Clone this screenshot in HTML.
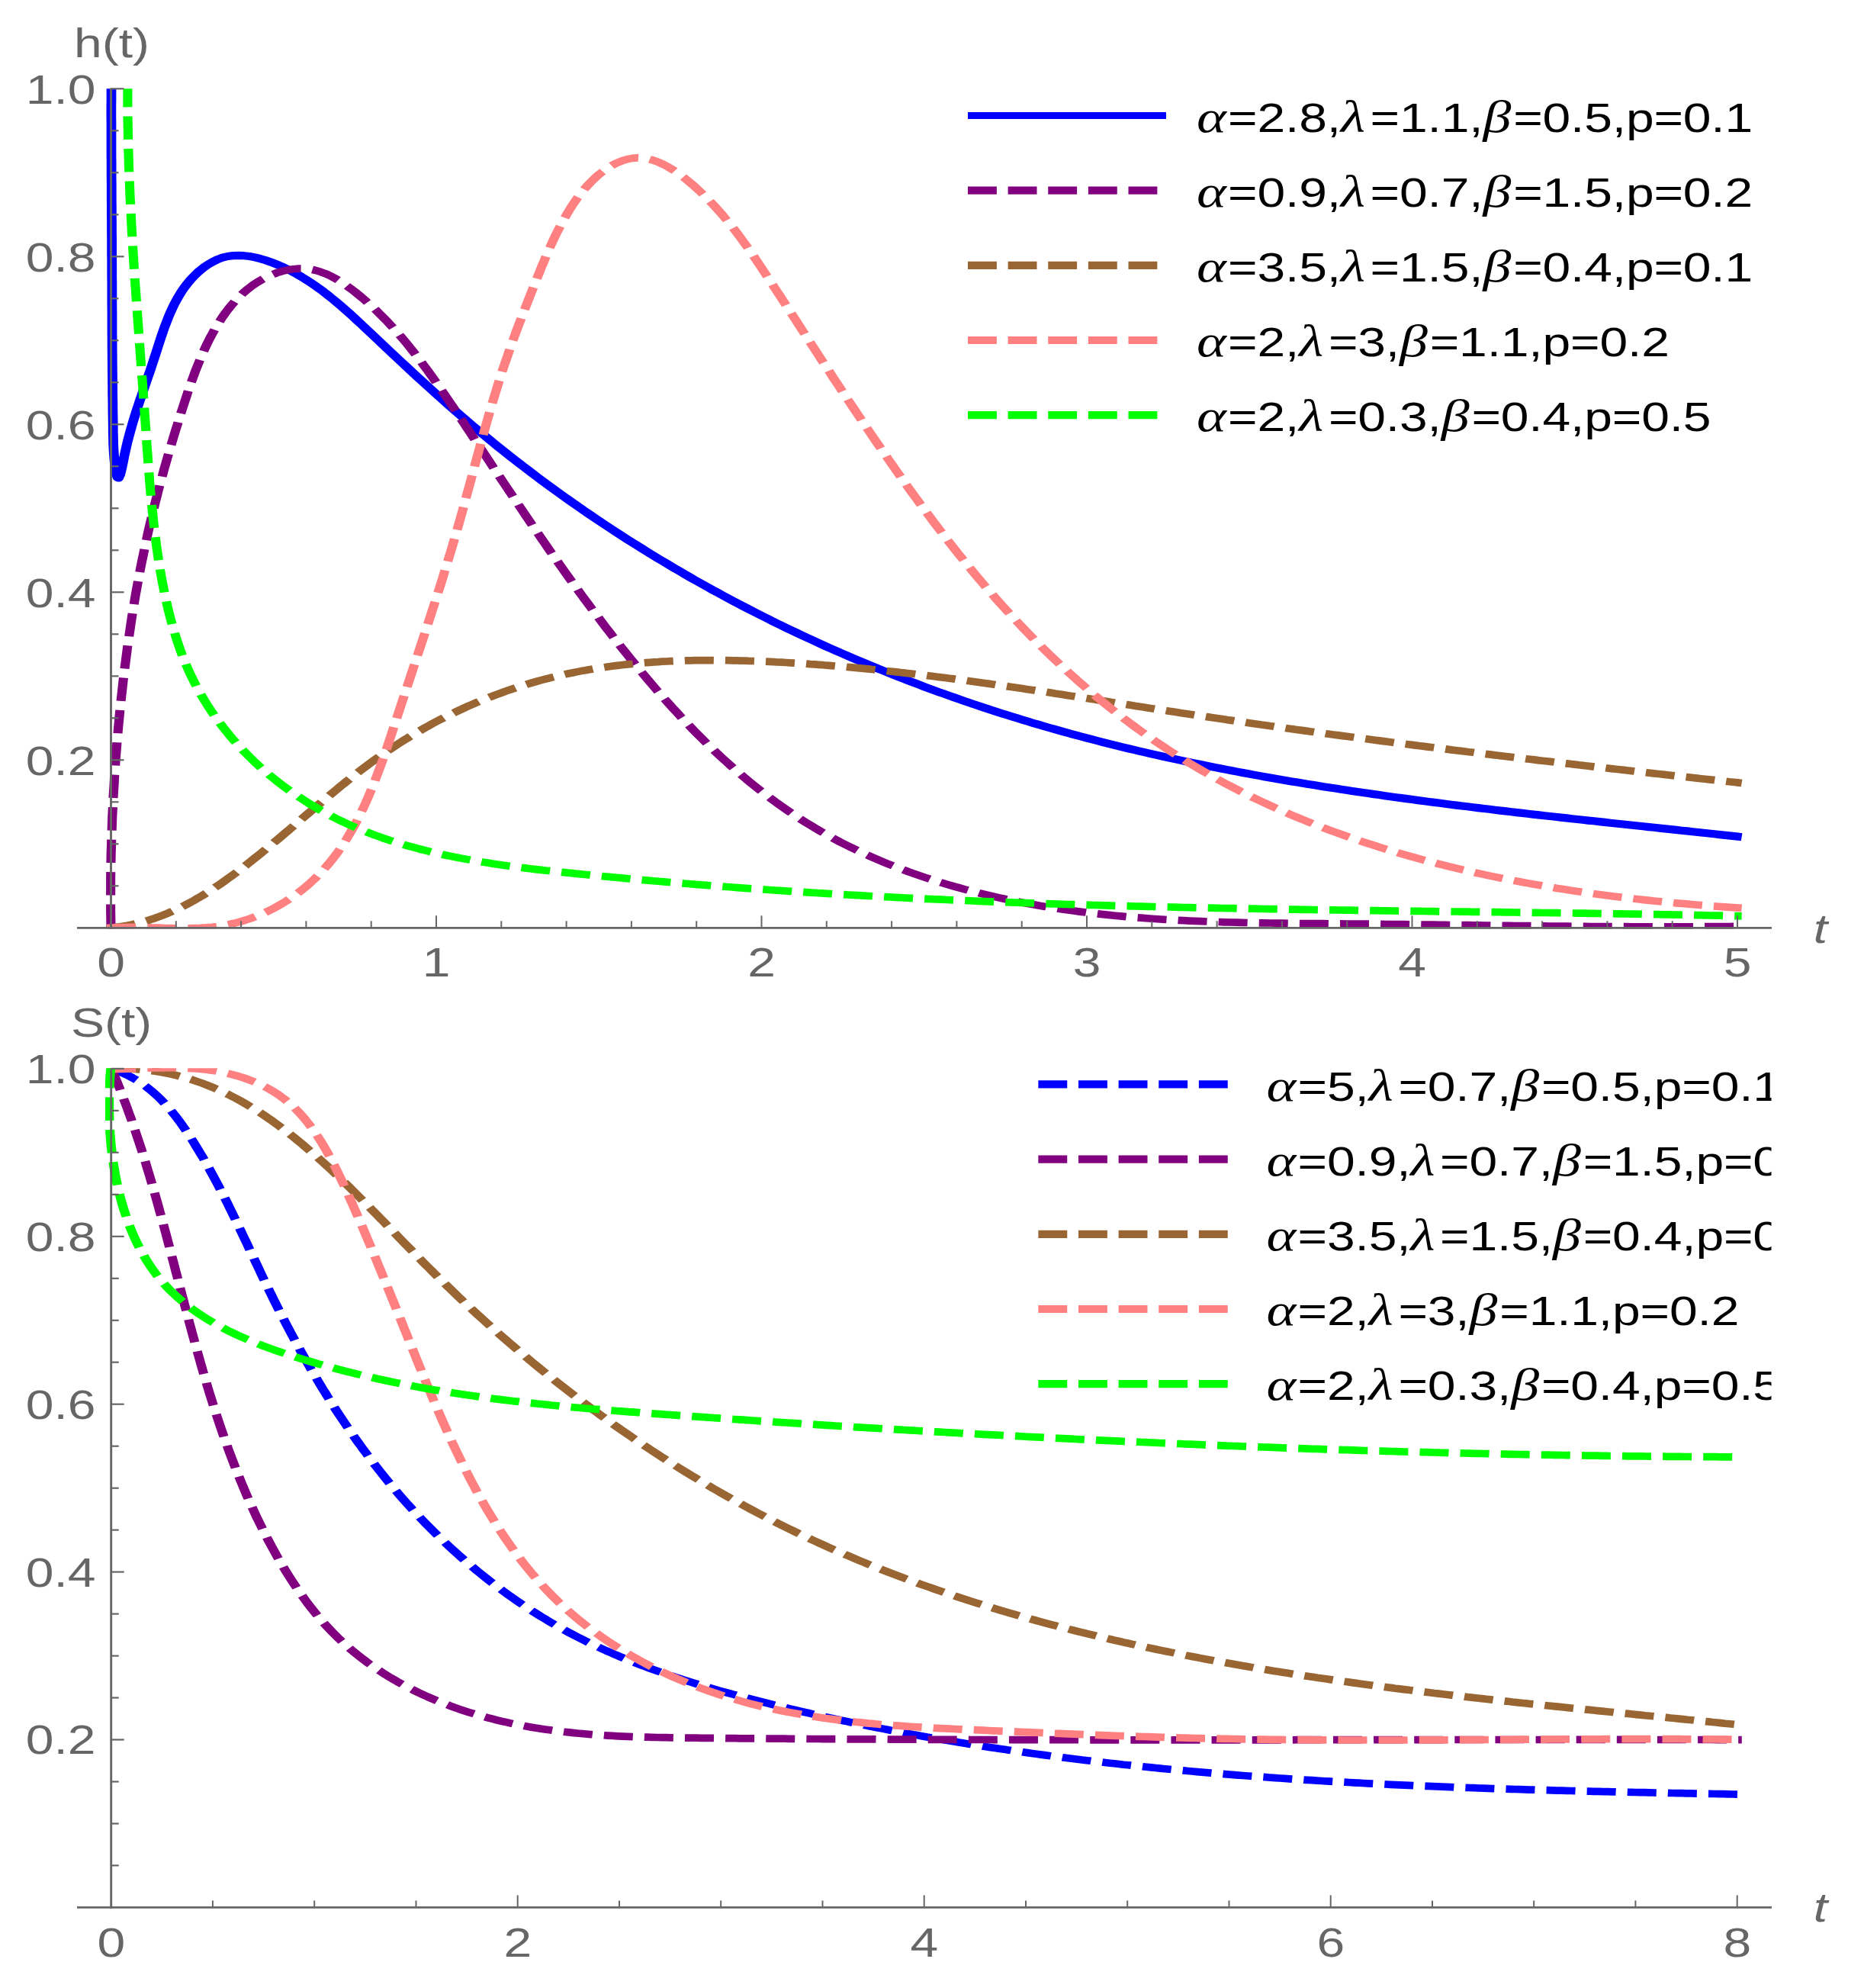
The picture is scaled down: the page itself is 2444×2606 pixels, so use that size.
<!DOCTYPE html><html><head><meta charset="utf-8"><title>h(t) and S(t)</title>
<style>html,body{margin:0;padding:0;background:#fff}svg{display:block}text{font-family:"Liberation Sans",sans-serif;font-size:52.8px}.ax{fill:#666}.lg{fill:#000;letter-spacing:-0.13px}.gk{font-family:"Liberation Serif",serif;font-style:italic;font-size:59.1px}.it{font-style:italic}</style></head><body>
<svg width="2444" height="2606" viewBox="0 0 2444 2606">
<rect width="2444" height="2606" fill="#fff"/>
<defs><clipPath id="cl"><rect x="0" y="0" width="1858.0" height="2606"/></clipPath></defs>
<g transform="scale(1.250,1)">
<defs><clipPath id="ct"><rect x="110.4" y="116.2" width="1720.0" height="1101.4"/></clipPath><clipPath id="cb"><rect x="110.4" y="1400.2" width="1720.0" height="1101.6"/></clipPath></defs>
<g clip-path="url(#ct)"><path d="M116.8 110.0L116.8 117.3L116.8 124.7L116.8 132.0L116.7 139.2L116.7 146.5L116.7 153.8L116.8 161.0L116.8 168.3L116.8 175.5L116.8 182.7L116.8 190.0L116.8 197.2L116.8 204.4L116.9 211.6L116.9 218.8L116.9 226.0L116.9 233.2L117.0 240.3L117.0 247.5L117.0 254.7L117.0 261.9L117.1 269.1L117.1 276.3L117.1 283.5L117.2 290.7L117.2 298.0L117.2 305.2L117.3 312.4L117.3 319.7L117.3 326.9L117.3 334.2L117.4 341.5L117.4 348.8L117.4 356.1L117.4 363.4L117.5 370.8L117.5 378.1L117.5 385.4L117.5 392.8L117.5 400.1L117.6 407.5L117.6 414.8L117.6 422.1L117.6 429.3L117.6 436.6L117.7 443.8L117.7 451.0L117.7 458.1L117.8 465.2L117.8 472.3L117.9 479.3L117.9 486.3L118.0 493.3L118.0 500.4L118.1 507.4L118.1 514.5L118.2 521.7L118.3 528.9L118.3 536.1L118.4 543.5L118.5 550.9L118.6 558.4L118.6 566.1L118.8 573.8L118.9 581.6L119.2 589.4L119.6 597.3L120.1 605.0L120.9 612.7L121.9 620.2L123.1 625.7L124.5 626.5L126.1 622.2L127.7 614.2L129.3 604.7L130.7 595.8L132.1 588.0L133.4 580.8L134.9 573.6L136.4 566.6L138.0 559.6L139.6 552.7L141.3 545.8L143.0 539.0L144.8 532.2L146.6 525.4L148.5 518.6L150.3 511.9L152.2 505.1L154.0 498.4L155.9 491.6L157.8 484.8L159.6 478.0L161.4 471.1L163.2 464.2L165.0 457.3L166.8 450.3L168.6 443.4L170.5 436.4L172.4 429.5L174.5 422.7L176.6 415.9L178.9 409.2L181.3 402.7L183.9 396.2L186.7 389.9L189.7 383.7L192.9 377.7L196.4 372.0L200.1 366.4L204.2 361.0L208.5 355.9L213.1 351.2L217.9 347.0L222.9 343.3L228.1 340.1L233.4 337.7L238.9 336.0L244.5 335.1L250.2 334.8L255.9 335.2L261.7 336.0L267.5 337.4L273.2 339.2L278.8 341.3L284.4 343.7L289.9 346.4L295.3 349.2L300.5 352.3L305.7 355.5L310.7 358.9L315.7 362.5L320.6 366.2L325.4 370.1L330.2 374.2L334.9 378.3L339.5 382.6L344.0 387.0L348.5 391.5L353.0 396.1L357.4 400.8L361.7 405.5L366.1 410.3L370.4 415.2L374.6 420.1L378.9 425.0L383.1 430.0L387.4 435.0L391.6 440.0L395.9 445.0L400.1 450.0L404.3 455.0L408.6 460.0L412.8 465.0L417.1 470.0L421.4 475.0L425.6 479.9L429.9 484.9L434.2 489.8L438.5 494.8L442.8 499.7L447.1 504.6L451.4 509.5L455.7 514.3L460.0 519.2L464.4 524.0L468.7 528.9L473.1 533.7L477.5 538.5L481.9 543.2L486.3 548.0L490.7 552.7L495.1 557.4L499.6 562.1L504.0 566.7L508.5 571.3L513.0 575.9L517.5 580.5L522.0 585.1L526.6 589.6L531.1 594.1L535.6 598.6L540.2 603.1L544.8 607.5L549.4 611.9L554.0 616.3L558.6 620.7L563.3 625.1L567.9 629.4L572.6 633.7L577.2 638.0L581.9 642.3L586.6 646.5L591.3 650.7L596.0 654.9L600.8 659.1L605.5 663.2L610.3 667.4L615.0 671.5L619.8 675.5L624.6 679.6L629.4 683.6L634.2 687.6L639.1 691.6L643.9 695.6L648.7 699.5L653.6 703.5L658.5 707.4L663.4 711.2L668.3 715.1L673.2 718.9L678.1 722.7L683.0 726.5L687.9 730.3L692.9 734.0L697.9 737.7L702.8 741.4L707.8 745.1L712.8 748.7L717.8 752.4L722.8 756.0L727.8 759.6L732.9 763.1L737.9 766.6L743.0 770.2L748.0 773.7L753.1 777.1L758.2 780.6L763.3 784.0L768.4 787.4L773.5 790.8L778.6 794.1L783.7 797.4L788.9 800.8L794.0 804.0L799.2 807.3L804.4 810.5L809.5 813.8L814.7 817.0L819.9 820.1L825.1 823.3L830.3 826.4L835.6 829.5L840.8 832.6L846.0 835.6L851.3 838.7L856.5 841.7L861.8 844.7L867.1 847.7L872.4 850.6L877.6 853.5L882.9 856.4L888.2 859.3L893.6 862.2L898.9 865.0L904.2 867.8L909.5 870.6L914.9 873.4L920.2 876.1L925.6 878.8L931.0 881.5L936.3 884.2L941.7 886.8L947.1 889.5L952.5 892.1L957.9 894.7L963.3 897.2L968.7 899.8L974.1 902.3L979.6 904.8L985.0 907.3L990.5 909.7L995.9 912.1L1001.4 914.5L1006.8 916.9L1012.3 919.3L1017.8 921.6L1023.2 923.9L1028.7 926.2L1034.2 928.5L1039.7 930.7L1045.2 933.0L1050.7 935.2L1056.2 937.3L1061.8 939.5L1067.3 941.6L1072.8 943.7L1078.4 945.8L1083.9 947.9L1089.5 949.9L1095.0 952.0L1100.6 954.0L1106.1 955.9L1111.7 957.9L1117.3 959.8L1122.9 961.8L1128.4 963.6L1134.0 965.5L1139.6 967.4L1145.2 969.2L1150.8 971.0L1156.4 972.8L1162.0 974.6L1167.7 976.3L1173.3 978.1L1178.9 979.8L1184.5 981.5L1190.2 983.1L1195.8 984.8L1201.4 986.4L1207.1 988.1L1212.7 989.7L1218.4 991.2L1224.0 992.8L1229.7 994.4L1235.4 995.9L1241.0 997.4L1246.7 998.9L1252.4 1000.4L1258.1 1001.8L1263.7 1003.3L1269.4 1004.7L1275.1 1006.1L1280.8 1007.5L1286.5 1008.9L1292.2 1010.3L1297.9 1011.6L1303.6 1013.0L1309.3 1014.3L1315.0 1015.6L1320.7 1016.9L1326.4 1018.2L1332.2 1019.5L1337.9 1020.7L1343.6 1021.9L1349.3 1023.2L1355.0 1024.4L1360.8 1025.6L1366.5 1026.8L1372.2 1027.9L1378.0 1029.1L1383.7 1030.3L1389.5 1031.4L1395.2 1032.5L1400.9 1033.6L1406.7 1034.7L1412.4 1035.8L1418.2 1036.9L1423.9 1038.0L1429.7 1039.0L1435.4 1040.1L1441.2 1041.1L1446.9 1042.1L1452.7 1043.2L1458.5 1044.2L1464.2 1045.2L1470.0 1046.1L1475.8 1047.1L1481.5 1048.1L1487.3 1049.1L1493.0 1050.0L1498.8 1051.0L1504.6 1051.9L1510.3 1052.8L1516.1 1053.7L1521.9 1054.7L1527.7 1055.6L1533.4 1056.5L1539.2 1057.3L1545.0 1058.2L1550.7 1059.1L1556.5 1060.0L1562.3 1060.8L1568.0 1061.7L1573.8 1062.6L1579.6 1063.4L1585.4 1064.2L1591.1 1065.1L1596.9 1065.9L1602.7 1066.7L1608.4 1067.6L1614.2 1068.4L1620.0 1069.2L1625.8 1070.0L1631.5 1070.8L1637.3 1071.6L1643.1 1072.4L1648.8 1073.2L1654.6 1074.0L1660.4 1074.8L1666.1 1075.6L1671.9 1076.3L1677.6 1077.1L1683.4 1077.9L1689.2 1078.7L1694.9 1079.5L1700.7 1080.2L1706.4 1081.0L1712.2 1081.8L1717.9 1082.5L1723.7 1083.3L1729.4 1084.1L1735.2 1084.8L1740.9 1085.6L1746.7 1086.4L1752.4 1087.1L1758.2 1087.9L1763.9 1088.7L1769.6 1089.4L1775.4 1090.2L1781.1 1091.0L1786.8 1091.8L1792.6 1092.5L1798.3 1093.3L1804.0 1094.1L1809.7 1094.9L1815.4 1095.6L1821.2 1096.4L1826.9 1097.2" fill="none" stroke="#0000ff" stroke-width="10.2" stroke-linejoin="round"/>
<path d="M116.4 1216.0L116.3 1208.9L116.2 1201.7L116.1 1194.5L116.1 1187.2L116.1 1179.9L116.1 1172.5L116.1 1165.2L116.1 1157.7L116.1 1150.3L116.2 1142.8L116.3 1135.3L116.4 1127.7L116.5 1120.1L116.7 1112.5L116.9 1104.9L117.0 1097.2L117.3 1089.5L117.5 1081.8L117.7 1074.1L118.0 1066.4L118.3 1058.6L118.6 1050.8L118.9 1043.0L119.3 1035.2L119.7 1027.4L120.0 1019.5L120.5 1011.7L120.9 1003.8L121.3 996.0L121.8 988.1L122.3 980.2L122.8 972.4L123.4 964.5L123.9 956.6L124.5 948.7L125.1 940.9L125.7 933.0L126.3 925.1L127.0 917.3L127.7 909.5L128.4 901.6L129.1 893.8L129.8 886.0L130.6 878.2L131.4 870.4L132.2 862.7L133.0 854.9L133.8 847.2L134.7 839.5L135.6 831.9L136.5 824.2L137.4 816.6L138.3 809.0L139.3 801.4L140.3 793.9L141.3 786.4L142.3 778.9L143.4 771.5L144.5 764.1L145.6 756.8L146.7 749.4L147.8 742.2L149.0 734.9L150.2 727.7L151.4 720.5L152.6 713.3L153.9 706.2L155.1 699.1L156.4 691.9L157.8 684.8L159.1 677.7L160.5 670.7L161.9 663.6L163.3 656.5L164.8 649.4L166.2 642.3L167.8 635.2L169.3 628.1L170.9 621.0L172.4 613.8L174.1 606.7L175.7 599.5L177.4 592.3L179.1 585.0L180.9 577.7L182.6 570.4L184.4 563.1L186.3 555.7L188.1 548.2L190.0 540.7L192.0 533.2L194.0 525.6L196.0 518.0L198.0 510.4L200.2 502.8L202.4 495.2L204.6 487.6L207.0 480.1L209.4 472.7L211.9 465.3L214.5 458.0L217.2 450.8L220.0 443.8L223.0 436.9L226.0 430.1L229.2 423.6L232.5 417.2L236.0 411.0L239.6 405.0L243.4 399.2L247.3 393.7L251.4 388.4L255.7 383.4L260.2 378.7L264.8 374.3L269.6 370.2L274.7 366.5L279.9 363.1L285.2 360.1L290.7 357.5L296.3 355.4L302.0 353.8L307.7 352.7L313.5 352.1L319.2 352.2L324.9 352.9L330.5 354.3L336.1 356.3L341.6 358.8L347.0 361.9L352.3 365.5L357.6 369.4L362.7 373.7L367.8 378.3L372.7 383.0L377.6 388.0L382.4 393.0L387.0 398.2L391.6 403.4L396.1 408.7L400.5 414.2L404.9 419.7L409.1 425.3L413.3 430.9L417.4 436.7L421.4 442.5L425.4 448.4L429.3 454.3L433.1 460.3L436.9 466.3L440.7 472.4L444.3 478.6L448.0 484.7L451.6 491.0L455.2 497.2L458.7 503.5L462.2 509.8L465.7 516.1L469.2 522.5L472.6 528.8L476.1 535.2L479.5 541.5L482.9 547.9L486.3 554.3L489.7 560.7L493.1 567.0L496.5 573.4L499.9 579.7L503.3 586.1L506.7 592.4L510.1 598.8L513.4 605.1L516.8 611.5L520.2 617.8L523.6 624.1L527.0 630.5L530.4 636.8L533.8 643.1L537.2 649.4L540.6 655.7L544.0 662.0L547.4 668.3L550.8 674.6L554.2 680.9L557.6 687.1L561.0 693.4L564.5 699.7L567.9 705.9L571.4 712.1L574.8 718.4L578.3 724.6L581.8 730.8L585.3 737.0L588.8 743.2L592.3 749.4L595.8 755.5L599.4 761.7L602.9 767.8L606.5 774.0L610.1 780.1L613.7 786.2L617.3 792.3L620.9 798.4L624.6 804.5L628.3 810.6L631.9 816.6L635.6 822.7L639.4 828.7L643.1 834.7L646.9 840.7L650.6 846.7L654.4 852.7L658.3 858.6L662.1 864.6L666.0 870.5L669.9 876.4L673.8 882.3L677.7 888.2L681.7 894.0L685.7 899.9L689.7 905.7L693.7 911.4L697.8 917.2L701.9 922.9L706.0 928.6L710.2 934.2L714.3 939.8L718.5 945.4L722.8 950.9L727.0 956.5L731.3 961.9L735.6 967.3L740.0 972.7L744.4 978.1L748.8 983.3L753.2 988.6L757.7 993.8L762.2 998.9L766.7 1004.0L771.3 1009.1L775.9 1014.0L780.6 1019.0L785.2 1023.8L789.9 1028.6L794.7 1033.4L799.5 1038.1L804.3 1042.7L809.1 1047.3L814.0 1051.8L818.9 1056.2L823.9 1060.5L828.9 1064.8L833.9 1069.0L839.0 1073.2L844.1 1077.3L849.3 1081.2L854.5 1085.2L859.7 1089.0L865.0 1092.7L870.3 1096.4L875.6 1100.0L881.0 1103.6L886.4 1107.0L891.9 1110.4L897.4 1113.7L902.9 1117.0L908.4 1120.2L914.0 1123.3L919.6 1126.3L925.2 1129.3L930.9 1132.2L936.6 1135.0L942.3 1137.7L948.0 1140.4L953.8 1143.1L959.5 1145.6L965.3 1148.1L971.1 1150.6L977.0 1153.0L982.8 1155.3L988.7 1157.5L994.6 1159.7L1000.5 1161.9L1006.4 1163.9L1012.4 1166.0L1018.3 1167.9L1024.3 1169.8L1030.2 1171.7L1036.2 1173.5L1042.2 1175.2L1048.2 1176.9L1054.2 1178.5L1060.2 1180.1L1066.2 1181.6L1072.3 1183.1L1078.3 1184.5L1084.3 1185.8L1090.4 1187.2L1096.4 1188.4L1102.4 1189.6L1108.5 1190.8L1114.5 1191.9L1120.5 1193.0L1126.6 1194.1L1132.6 1195.1L1138.7 1196.0L1144.7 1196.9L1150.7 1197.8L1156.8 1198.6L1162.8 1199.4L1168.9 1200.2L1174.9 1200.9L1181.0 1201.6L1187.0 1202.2L1193.1 1202.9L1199.1 1203.4L1205.2 1204.0L1211.2 1204.5L1217.3 1205.0L1223.4 1205.5L1229.4 1205.9L1235.5 1206.3L1241.5 1206.7L1247.6 1207.1L1253.7 1207.4L1259.7 1207.7L1265.8 1208.0L1271.9 1208.3L1277.9 1208.5L1284.0 1208.8L1290.1 1209.0L1296.1 1209.2L1302.2 1209.3L1308.3 1209.5L1314.4 1209.7L1320.4 1209.8L1326.5 1209.9L1332.6 1210.0L1338.7 1210.1L1344.8 1210.2L1350.9 1210.3L1356.9 1210.4L1363.0 1210.5L1369.1 1210.6L1375.2 1210.6L1381.3 1210.7L1387.4 1210.7L1393.5 1210.8L1399.6 1210.9L1405.7 1210.9L1411.8 1211.0L1417.9 1211.0L1424.0 1211.1L1430.1 1211.2L1436.2 1211.2L1442.3 1211.3L1448.4 1211.4L1454.5 1211.5L1460.6 1211.6L1466.7 1211.6L1472.8 1211.7L1478.9 1211.8L1485.0 1211.9L1491.2 1212.0L1497.3 1212.1L1503.4 1212.2L1509.5 1212.3L1515.6 1212.4L1521.7 1212.5L1527.8 1212.5L1534.0 1212.6L1540.1 1212.7L1546.2 1212.8L1552.3 1212.9L1558.4 1213.0L1564.5 1213.1L1570.7 1213.2L1576.8 1213.3L1582.9 1213.4L1589.0 1213.5L1595.1 1213.6L1601.2 1213.6L1607.4 1213.7L1613.5 1213.8L1619.6 1213.9L1625.7 1214.0L1631.8 1214.1L1637.9 1214.1L1644.0 1214.2L1650.2 1214.3L1656.3 1214.3L1662.4 1214.4L1668.5 1214.5L1674.6 1214.5L1680.7 1214.6L1686.8 1214.6L1692.9 1214.7L1699.0 1214.7L1705.1 1214.7L1711.2 1214.8L1717.3 1214.8L1723.4 1214.8L1729.5 1214.8L1735.6 1214.8L1741.7 1214.8L1747.8 1214.8L1753.9 1214.8L1760.0 1214.8L1766.1 1214.8L1772.2 1214.8L1778.3 1214.8L1784.4 1214.7L1790.4 1214.7L1796.5 1214.6L1802.6 1214.6L1808.7 1214.5L1814.7 1214.5L1820.8 1214.4L1826.9 1214.3" fill="none" stroke="#800080" stroke-width="9.7" stroke-dasharray="30.4 12.1" stroke-linejoin="round"/>
<path d="M112.0 1216.7L116.4 1216.2L120.7 1215.6L125.1 1214.9L129.4 1214.1L133.6 1213.2L137.8 1212.1L142.0 1211.0L146.1 1209.7L150.2 1208.3L154.3 1206.9L158.3 1205.3L162.3 1203.7L166.2 1201.9L170.1 1200.1L174.0 1198.2L177.9 1196.1L181.7 1194.0L185.5 1191.9L189.3 1189.6L193.0 1187.3L196.7 1184.9L200.4 1182.4L204.1 1179.9L207.7 1177.2L211.4 1174.6L215.0 1171.8L218.5 1169.1L222.1 1166.2L225.6 1163.3L229.1 1160.4L232.7 1157.4L236.1 1154.3L239.6 1151.2L243.1 1148.1L246.5 1145.0L249.9 1141.8L253.4 1138.5L256.8 1135.3L260.2 1132.0L263.5 1128.7L266.9 1125.3L270.3 1122.0L273.7 1118.6L277.0 1115.2L280.4 1111.7L283.7 1108.3L287.0 1104.8L290.4 1101.3L293.7 1097.8L297.0 1094.3L300.3 1090.8L303.7 1087.3L307.0 1083.7L310.3 1080.2L313.6 1076.6L316.9 1073.1L320.2 1069.5L323.6 1066.0L326.9 1062.5L330.2 1058.9L333.5 1055.4L336.9 1051.8L340.2 1048.3L343.6 1044.8L346.9 1041.3L350.3 1037.8L353.7 1034.4L357.0 1030.9L360.4 1027.5L363.8 1024.0L367.2 1020.7L370.6 1017.3L374.1 1013.9L377.5 1010.6L381.0 1007.3L384.4 1004.1L387.9 1000.8L391.4 997.6L394.9 994.5L398.4 991.3L402.0 988.2L405.6 985.2L409.1 982.1L412.7 979.2L416.3 976.2L420.0 973.3L423.6 970.4L427.3 967.6L431.0 964.8L434.6 962.1L438.4 959.3L442.1 956.7L445.8 954.0L449.6 951.4L453.3 948.8L457.1 946.3L460.9 943.8L464.7 941.4L468.5 939.0L472.4 936.6L476.2 934.3L480.1 932.0L484.0 929.7L487.8 927.5L491.7 925.3L495.7 923.2L499.6 921.1L503.5 919.0L507.5 917.0L511.4 915.0L515.4 913.1L519.4 911.2L523.4 909.3L527.4 907.5L531.4 905.7L535.4 904.0L539.5 902.3L543.5 900.6L547.6 899.0L551.7 897.4L555.7 895.9L559.8 894.4L563.9 892.9L568.0 891.5L572.2 890.1L576.3 888.8L580.4 887.5L584.6 886.3L588.7 885.1L592.9 883.9L597.0 882.8L601.2 881.7L605.4 880.6L609.6 879.6L613.8 878.7L618.0 877.8L622.2 876.9L626.4 876.0L630.7 875.2L634.9 874.5L639.1 873.7L643.4 873.0L647.6 872.4L651.9 871.7L656.2 871.1L660.4 870.6L664.7 870.1L669.0 869.6L673.3 869.1L677.5 868.7L681.8 868.3L686.1 867.9L690.4 867.6L694.7 867.2L699.0 867.0L703.3 866.7L707.6 866.5L712.0 866.3L716.3 866.1L720.6 865.9L724.9 865.8L729.2 865.7L733.6 865.6L737.9 865.6L742.2 865.6L746.5 865.5L750.9 865.6L755.2 865.6L759.5 865.6L763.9 865.7L768.2 865.8L772.5 865.9L776.8 866.1L781.2 866.2L785.5 866.4L789.8 866.5L794.2 866.7L798.5 867.0L802.8 867.2L807.1 867.4L811.4 867.7L815.8 868.0L820.1 868.2L824.4 868.5L828.7 868.8L833.0 869.2L837.3 869.5L841.6 869.8L845.9 870.2L850.2 870.6L854.5 870.9L858.8 871.3L863.1 871.7L867.4 872.2L871.7 872.6L876.0 873.0L880.3 873.5L884.6 873.9L888.9 874.4L893.2 874.9L897.5 875.4L901.8 875.9L906.0 876.4L910.3 876.9L914.6 877.5L918.9 878.0L923.2 878.6L927.4 879.1L931.7 879.7L936.0 880.3L940.3 880.9L944.5 881.5L948.8 882.1L953.1 882.7L957.3 883.3L961.6 883.9L965.9 884.6L970.1 885.2L974.4 885.9L978.7 886.5L982.9 887.2L987.2 887.9L991.5 888.5L995.7 889.2L1000.0 889.9L1004.2 890.6L1008.5 891.3L1012.7 892.0L1017.0 892.8L1021.3 893.5L1025.5 894.2L1029.8 895.0L1034.0 895.7L1038.3 896.4L1042.5 897.2L1046.8 898.0L1051.0 898.7L1055.3 899.5L1059.5 900.2L1063.8 901.0L1068.0 901.8L1072.3 902.6L1076.5 903.4L1080.8 904.2L1085.0 904.9L1089.3 905.7L1093.5 906.5L1097.8 907.3L1102.0 908.1L1106.2 909.0L1110.5 909.8L1114.7 910.6L1119.0 911.4L1123.2 912.2L1127.5 913.0L1131.7 913.8L1136.0 914.7L1140.2 915.5L1144.4 916.3L1148.7 917.1L1152.9 918.0L1157.2 918.8L1161.4 919.6L1165.7 920.4L1169.9 921.3L1174.2 922.1L1178.4 922.9L1182.7 923.7L1186.9 924.6L1191.1 925.4L1195.4 926.2L1199.6 927.0L1203.9 927.9L1208.1 928.7L1212.4 929.5L1216.6 930.3L1220.9 931.1L1225.1 931.9L1229.4 932.8L1233.6 933.6L1237.9 934.4L1242.1 935.2L1246.4 936.0L1250.6 936.8L1254.9 937.6L1259.1 938.4L1263.4 939.2L1267.6 939.9L1271.9 940.7L1276.2 941.5L1280.4 942.3L1284.7 943.1L1288.9 943.9L1293.2 944.6L1297.4 945.4L1301.7 946.2L1306.0 946.9L1310.2 947.7L1314.5 948.5L1318.7 949.2L1323.0 950.0L1327.3 950.7L1331.5 951.5L1335.8 952.2L1340.0 953.0L1344.3 953.7L1348.6 954.5L1352.8 955.2L1357.1 955.9L1361.4 956.7L1365.6 957.4L1369.9 958.1L1374.2 958.9L1378.4 959.6L1382.7 960.3L1387.0 961.0L1391.2 961.8L1395.5 962.5L1399.8 963.2L1404.0 963.9L1408.3 964.6L1412.6 965.3L1416.8 966.0L1421.1 966.7L1425.4 967.4L1429.6 968.1L1433.9 968.8L1438.2 969.5L1442.4 970.2L1446.7 970.9L1451.0 971.6L1455.3 972.3L1459.5 973.0L1463.8 973.7L1468.1 974.4L1472.3 975.0L1476.6 975.7L1480.9 976.4L1485.2 977.1L1489.4 977.7L1493.7 978.4L1498.0 979.1L1502.3 979.8L1506.5 980.4L1510.8 981.1L1515.1 981.7L1519.3 982.4L1523.6 983.1L1527.9 983.7L1532.2 984.4L1536.4 985.0L1540.7 985.7L1545.0 986.3L1549.3 987.0L1553.5 987.6L1557.8 988.3L1562.1 988.9L1566.4 989.6L1570.6 990.2L1574.9 990.9L1579.2 991.5L1583.5 992.1L1587.7 992.8L1592.0 993.4L1596.3 994.0L1600.6 994.7L1604.8 995.3L1609.1 995.9L1613.4 996.6L1617.7 997.2L1621.9 997.8L1626.2 998.4L1630.5 999.0L1634.7 999.7L1639.0 1000.3L1643.3 1000.9L1647.6 1001.5L1651.8 1002.1L1656.1 1002.8L1660.4 1003.4L1664.7 1004.0L1668.9 1004.6L1673.2 1005.2L1677.5 1005.8L1681.8 1006.4L1686.0 1007.0L1690.3 1007.6L1694.6 1008.2L1698.8 1008.8L1703.1 1009.4L1707.4 1010.0L1711.7 1010.6L1715.9 1011.2L1720.2 1011.8L1724.5 1012.4L1728.7 1013.0L1733.0 1013.6L1737.3 1014.2L1741.5 1014.8L1745.8 1015.4L1750.1 1016.0L1754.4 1016.6L1758.6 1017.2L1762.9 1017.8L1767.2 1018.4L1771.4 1018.9L1775.7 1019.5L1780.0 1020.1L1784.2 1020.7L1788.5 1021.3L1792.8 1021.9L1797.0 1022.4L1801.3 1023.0L1805.6 1023.6L1809.8 1024.2L1814.1 1024.8L1818.4 1025.3L1822.6 1025.9L1826.9 1026.5" fill="none" stroke="#996633" stroke-width="9.7" stroke-dasharray="30.4 12.1" stroke-linejoin="round"/>
<path d="M112.1 1216.7L118.0 1216.1L124.0 1215.7L130.0 1215.5L136.1 1215.4L142.2 1215.5L148.3 1215.6L154.4 1215.8L160.6 1216.0L166.8 1216.2L173.0 1216.5L179.2 1216.7L185.4 1216.8L191.6 1216.9L197.8 1216.9L204.0 1216.7L210.2 1216.4L216.3 1215.9L222.4 1215.2L228.5 1214.3L234.5 1213.1L240.5 1211.7L246.4 1210.0L252.3 1208.1L258.1 1205.9L263.8 1203.5L269.5 1200.8L275.1 1197.9L280.6 1194.7L286.0 1191.4L291.3 1187.8L296.6 1184.0L301.7 1180.0L306.7 1175.8L311.6 1171.4L316.4 1166.9L321.1 1162.1L325.6 1157.2L330.0 1152.1L334.2 1146.9L338.3 1141.5L342.3 1135.9L346.2 1130.2L349.9 1124.4L353.5 1118.5L356.9 1112.4L360.3 1106.2L363.5 1099.9L366.6 1093.4L369.6 1086.9L372.6 1080.3L375.4 1073.6L378.1 1066.8L380.8 1059.9L383.4 1052.9L385.9 1045.9L388.3 1038.8L390.7 1031.7L393.0 1024.5L395.2 1017.2L397.4 1009.9L399.6 1002.6L401.7 995.3L403.8 987.9L405.8 980.5L407.8 973.1L409.8 965.7L411.7 958.3L413.7 950.9L415.6 943.5L417.5 936.2L419.5 928.8L421.4 921.5L423.3 914.2L425.2 906.9L427.1 899.7L429.1 892.5L431.0 885.2L432.9 878.0L434.8 870.8L436.7 863.7L438.6 856.5L440.5 849.4L442.4 842.2L444.3 835.1L446.2 827.9L448.1 820.8L449.9 813.7L451.8 806.5L453.6 799.4L455.5 792.3L457.3 785.2L459.1 778.0L461.0 770.9L462.8 763.7L464.6 756.6L466.3 749.4L468.1 742.2L469.9 735.0L471.6 727.8L473.4 720.6L475.1 713.3L476.8 706.0L478.5 698.8L480.2 691.4L481.9 684.1L483.5 676.8L485.2 669.4L486.8 662.0L488.4 654.6L490.0 647.1L491.7 639.7L493.3 632.3L494.9 624.8L496.5 617.4L498.1 609.9L499.7 602.4L501.4 595.0L503.0 587.5L504.6 580.0L506.3 572.6L508.0 565.1L509.6 557.7L511.3 550.2L513.0 542.8L514.8 535.4L516.5 528.0L518.3 520.6L520.1 513.3L521.9 505.9L523.8 498.6L525.6 491.3L527.5 484.1L529.5 476.8L531.5 469.6L533.5 462.4L535.5 455.3L537.5 448.2L539.6 441.0L541.7 433.9L543.8 426.9L546.0 419.8L548.1 412.8L550.3 405.7L552.5 398.7L554.7 391.7L556.9 384.7L559.1 377.7L561.4 370.7L563.6 363.7L565.9 356.7L568.1 349.7L570.5 342.8L572.8 335.8L575.2 328.8L577.7 321.9L580.3 314.9L582.9 308.0L585.7 301.1L588.6 294.1L591.6 287.2L594.8 280.4L598.1 273.5L601.6 266.8L605.3 260.1L609.2 253.7L613.3 247.4L617.6 241.4L622.1 235.7L626.8 230.3L631.7 225.4L636.7 220.9L641.9 216.9L647.1 213.5L652.5 210.8L657.9 208.7L663.4 207.4L668.9 206.9L674.4 207.2L679.9 208.4L685.3 210.2L690.8 212.7L696.2 215.8L701.5 219.3L706.8 223.4L712.0 227.8L717.2 232.6L722.2 237.6L727.1 242.8L731.8 248.1L736.5 253.6L741.0 259.1L745.3 264.7L749.6 270.3L753.8 276.1L757.9 281.9L761.8 287.8L765.7 293.7L769.5 299.7L773.3 305.8L776.9 311.9L780.5 318.1L784.1 324.2L787.6 330.5L791.0 336.7L794.4 343.0L797.8 349.3L801.2 355.7L804.5 362.0L807.9 368.3L811.2 374.7L814.5 381.1L817.9 387.4L821.2 393.8L824.5 400.2L827.8 406.6L831.2 413.0L834.5 419.3L837.8 425.7L841.1 432.1L844.5 438.5L847.8 444.9L851.1 451.3L854.5 457.7L857.8 464.1L861.1 470.4L864.5 476.8L867.8 483.2L871.2 489.6L874.5 496.0L877.9 502.3L881.3 508.7L884.6 515.1L888.0 521.4L891.4 527.8L894.8 534.1L898.2 540.5L901.6 546.8L905.0 553.2L908.4 559.5L911.8 565.8L915.3 572.1L918.7 578.4L922.2 584.7L925.6 591.0L929.1 597.2L932.6 603.5L936.1 609.7L939.6 616.0L943.1 622.2L946.6 628.4L950.2 634.6L953.7 640.8L957.3 647.0L960.9 653.1L964.5 659.3L968.1 665.4L971.7 671.5L975.4 677.6L979.0 683.7L982.7 689.8L986.4 695.8L990.1 701.9L993.8 707.9L997.6 713.9L1001.4 719.8L1005.1 725.8L1009.0 731.7L1012.8 737.6L1016.7 743.5L1020.5 749.4L1024.4 755.2L1028.4 761.1L1032.3 766.9L1036.3 772.6L1040.3 778.4L1044.3 784.1L1048.4 789.8L1052.5 795.5L1056.6 801.1L1060.7 806.8L1064.9 812.4L1069.1 817.9L1073.3 823.5L1077.6 829.0L1081.8 834.4L1086.1 839.9L1090.5 845.3L1094.8 850.7L1099.2 856.0L1103.6 861.3L1108.1 866.6L1112.5 871.8L1117.0 877.0L1121.5 882.2L1126.1 887.3L1130.7 892.4L1135.3 897.4L1139.9 902.4L1144.5 907.4L1149.2 912.3L1153.9 917.2L1158.6 922.0L1163.4 926.8L1168.2 931.6L1173.0 936.3L1177.8 940.9L1182.7 945.5L1187.6 950.1L1192.5 954.6L1197.4 959.0L1202.4 963.4L1207.4 967.8L1212.4 972.1L1217.4 976.3L1222.5 980.5L1227.6 984.7L1232.7 988.8L1237.8 992.8L1243.0 996.8L1248.2 1000.8L1253.4 1004.6L1258.6 1008.5L1263.9 1012.3L1269.1 1016.0L1274.4 1019.7L1279.8 1023.3L1285.1 1026.9L1290.5 1030.4L1295.9 1033.9L1301.3 1037.4L1306.7 1040.8L1312.1 1044.1L1317.6 1047.4L1323.1 1050.6L1328.6 1053.8L1334.1 1057.0L1339.7 1060.1L1345.2 1063.2L1350.8 1066.2L1356.4 1069.2L1362.0 1072.1L1367.6 1075.0L1373.3 1077.8L1378.9 1080.6L1384.6 1083.4L1390.3 1086.1L1396.0 1088.8L1401.8 1091.4L1407.5 1094.0L1413.2 1096.5L1419.0 1099.0L1424.8 1101.5L1430.6 1103.9L1436.4 1106.3L1442.2 1108.6L1448.1 1110.9L1453.9 1113.2L1459.8 1115.4L1465.6 1117.6L1471.5 1119.8L1477.4 1121.9L1483.3 1123.9L1489.2 1126.0L1495.1 1128.0L1501.1 1129.9L1507.0 1131.8L1512.9 1133.7L1518.9 1135.6L1524.9 1137.4L1530.8 1139.2L1536.8 1140.9L1542.8 1142.6L1548.8 1144.3L1554.8 1145.9L1560.8 1147.6L1566.8 1149.1L1572.9 1150.7L1578.9 1152.2L1584.9 1153.7L1591.0 1155.1L1597.0 1156.5L1603.0 1157.9L1609.1 1159.3L1615.2 1160.6L1621.2 1161.9L1627.3 1163.1L1633.3 1164.4L1639.4 1165.6L1645.5 1166.8L1651.5 1167.9L1657.6 1169.0L1663.7 1170.1L1669.7 1171.2L1675.8 1172.2L1681.9 1173.2L1688.0 1174.2L1694.0 1175.2L1700.1 1176.1L1706.2 1177.0L1712.3 1177.9L1718.3 1178.8L1724.4 1179.6L1730.4 1180.4L1736.5 1181.2L1742.6 1181.9L1748.6 1182.7L1754.7 1183.4L1760.7 1184.1L1766.8 1184.7L1772.8 1185.4L1778.8 1186.0L1784.9 1186.6L1790.9 1187.2L1796.9 1187.8L1802.9 1188.3L1808.9 1188.8L1814.9 1189.3L1820.9 1189.8L1826.9 1190.3" fill="none" stroke="#ff8080" stroke-width="9.7" stroke-dasharray="30.4 12.1" stroke-linejoin="round"/>
<path d="M133.9 110.0L133.9 117.1L133.9 124.2L133.9 131.3L133.9 138.4L134.0 145.4L134.0 152.5L134.1 159.5L134.2 166.5L134.3 173.5L134.4 180.5L134.5 187.5L134.6 194.5L134.8 201.5L135.0 208.4L135.1 215.4L135.3 222.3L135.5 229.2L135.7 236.2L136.0 243.1L136.2 250.0L136.4 256.9L136.7 263.8L137.0 270.7L137.2 277.6L137.5 284.5L137.8 291.3L138.1 298.2L138.4 305.1L138.7 311.9L139.1 318.8L139.4 325.7L139.7 332.5L140.1 339.4L140.4 346.2L140.8 353.1L141.2 359.9L141.5 366.8L141.9 373.7L142.3 380.5L142.7 387.4L143.1 394.2L143.5 401.1L143.9 407.9L144.3 414.8L144.7 421.7L145.1 428.5L145.5 435.4L145.9 442.3L146.3 449.1L146.7 456.0L147.1 462.9L147.5 469.8L147.9 476.7L148.3 483.6L148.7 490.5L149.2 497.4L149.6 504.4L150.0 511.3L150.4 518.2L150.8 525.2L151.2 532.1L151.6 539.1L152.0 546.1L152.4 553.1L152.8 560.1L153.2 567.1L153.6 574.1L153.9 581.1L154.3 588.1L154.8 595.2L155.2 602.2L155.6 609.3L156.0 616.3L156.5 623.3L156.9 630.4L157.4 637.5L157.9 644.5L158.4 651.6L158.9 658.6L159.5 665.7L160.1 672.7L160.7 679.8L161.3 686.8L162.0 693.9L162.6 700.9L163.4 707.9L164.1 714.9L164.9 722.0L165.7 729.0L166.6 736.0L167.5 743.0L168.4 750.0L169.4 756.9L170.4 763.9L171.5 770.8L172.6 777.8L173.8 784.7L175.1 791.6L176.3 798.4L177.7 805.3L179.1 812.1L180.6 818.8L182.2 825.6L183.8 832.2L185.5 838.9L187.3 845.5L189.1 852.0L191.0 858.5L193.1 864.9L195.2 871.3L197.4 877.6L199.7 883.9L202.1 890.1L204.6 896.2L207.2 902.2L209.8 908.2L212.6 914.2L215.4 920.0L218.3 925.8L221.3 931.5L224.4 937.1L227.6 942.7L230.8 948.2L234.2 953.6L237.6 958.9L241.0 964.2L244.6 969.4L248.2 974.5L251.9 979.6L255.7 984.5L259.5 989.4L263.4 994.2L267.3 999.0L271.3 1003.6L275.4 1008.2L279.5 1012.7L283.7 1017.1L288.0 1021.4L292.3 1025.7L296.6 1029.8L301.1 1033.9L305.5 1037.9L310.0 1041.8L314.6 1045.6L319.2 1049.3L323.8 1053.0L328.5 1056.5L333.3 1060.0L338.0 1063.4L342.8 1066.7L347.7 1069.9L352.6 1073.0L357.5 1076.0L362.5 1078.9L367.4 1081.7L372.5 1084.5L377.5 1087.1L382.6 1089.7L387.7 1092.2L392.8 1094.6L398.0 1096.9L403.2 1099.2L408.4 1101.4L413.7 1103.5L418.9 1105.5L424.2 1107.5L429.5 1109.4L434.9 1111.2L440.2 1113.0L445.6 1114.7L451.0 1116.4L456.4 1118.0L461.9 1119.5L467.3 1121.0L472.8 1122.4L478.3 1123.8L483.8 1125.1L489.3 1126.4L494.8 1127.6L500.4 1128.8L505.9 1130.0L511.5 1131.1L517.0 1132.2L522.6 1133.2L528.2 1134.2L533.8 1135.2L539.4 1136.1L545.0 1137.0L550.6 1137.9L556.2 1138.7L561.9 1139.6L567.5 1140.4L573.1 1141.2L578.8 1141.9L584.4 1142.7L590.0 1143.4L595.6 1144.1L601.3 1144.9L606.9 1145.6L612.5 1146.3L618.1 1146.9L623.7 1147.6L629.3 1148.3L634.9 1149.0L640.5 1149.6L646.1 1150.3L651.7 1150.9L657.3 1151.6L662.9 1152.2L668.4 1152.8L674.0 1153.5L679.6 1154.1L685.1 1154.7L690.7 1155.3L696.3 1155.9L701.8 1156.5L707.4 1157.0L712.9 1157.6L718.5 1158.2L724.0 1158.8L729.6 1159.3L735.1 1159.9L740.7 1160.4L746.2 1161.0L751.7 1161.5L757.3 1162.0L762.8 1162.5L768.3 1163.0L773.8 1163.6L779.4 1164.1L784.9 1164.6L790.4 1165.0L795.9 1165.5L801.4 1166.0L806.9 1166.5L812.4 1167.0L818.0 1167.4L823.5 1167.9L829.0 1168.3L834.5 1168.8L840.0 1169.2L845.5 1169.7L851.0 1170.1L856.5 1170.5L862.0 1170.9L867.5 1171.3L873.0 1171.8L878.5 1172.2L884.0 1172.6L889.4 1173.0L894.9 1173.3L900.4 1173.7L905.9 1174.1L911.4 1174.5L916.9 1174.9L922.4 1175.2L927.9 1175.6L933.4 1175.9L938.9 1176.3L944.4 1176.6L949.8 1177.0L955.3 1177.3L960.8 1177.6L966.3 1178.0L971.8 1178.3L977.3 1178.6L982.8 1178.9L988.3 1179.2L993.8 1179.5L999.3 1179.8L1004.8 1180.1L1010.2 1180.4L1015.7 1180.7L1021.2 1181.0L1026.7 1181.3L1032.2 1181.6L1037.7 1181.8L1043.2 1182.1L1048.7 1182.4L1054.2 1182.6L1059.7 1182.9L1065.2 1183.1L1070.8 1183.4L1076.3 1183.6L1081.8 1183.9L1087.3 1184.1L1092.8 1184.4L1098.3 1184.6L1103.8 1184.8L1109.4 1185.0L1114.9 1185.3L1120.4 1185.5L1125.9 1185.7L1131.5 1185.9L1137.0 1186.1L1142.5 1186.3L1148.1 1186.5L1153.6 1186.7L1159.1 1186.9L1164.7 1187.1L1170.2 1187.3L1175.8 1187.5L1181.3 1187.6L1186.9 1187.8L1192.4 1188.0L1198.0 1188.2L1203.5 1188.3L1209.1 1188.5L1214.7 1188.7L1220.2 1188.8L1225.8 1189.0L1231.4 1189.2L1236.9 1189.3L1242.5 1189.5L1248.1 1189.6L1253.7 1189.8L1259.3 1189.9L1264.8 1190.1L1270.4 1190.2L1276.0 1190.3L1281.6 1190.5L1287.2 1190.6L1292.8 1190.7L1298.4 1190.9L1303.9 1191.0L1309.5 1191.1L1315.1 1191.2L1320.7 1191.4L1326.3 1191.5L1331.9 1191.6L1337.5 1191.7L1343.1 1191.8L1348.7 1192.0L1354.3 1192.1L1359.9 1192.2L1365.5 1192.3L1371.1 1192.4L1376.7 1192.5L1382.3 1192.6L1387.9 1192.7L1393.5 1192.8L1399.1 1192.9L1404.7 1193.0L1410.3 1193.1L1415.9 1193.2L1421.5 1193.3L1427.1 1193.4L1432.7 1193.5L1438.3 1193.6L1443.9 1193.7L1449.5 1193.8L1455.1 1193.9L1460.7 1194.0L1466.3 1194.1L1471.9 1194.2L1477.5 1194.3L1483.1 1194.3L1488.7 1194.4L1494.3 1194.5L1499.9 1194.6L1505.5 1194.7L1511.1 1194.8L1516.7 1194.9L1522.3 1195.0L1527.9 1195.0L1533.5 1195.1L1539.1 1195.2L1544.7 1195.3L1550.3 1195.4L1555.9 1195.5L1561.5 1195.6L1567.0 1195.7L1572.6 1195.7L1578.2 1195.8L1583.8 1195.9L1589.4 1196.0L1594.9 1196.1L1600.5 1196.2L1606.1 1196.3L1611.7 1196.4L1617.2 1196.5L1622.8 1196.5L1628.4 1196.6L1633.9 1196.7L1639.5 1196.8L1645.0 1196.9L1650.6 1197.0L1656.2 1197.1L1661.7 1197.2L1667.3 1197.3L1672.8 1197.4L1678.3 1197.5L1683.9 1197.6L1689.4 1197.7L1695.0 1197.8L1700.5 1197.9L1706.0 1198.0L1711.6 1198.1L1717.1 1198.2L1722.6 1198.4L1728.1 1198.5L1733.6 1198.6L1739.1 1198.7L1744.7 1198.8L1750.2 1198.9L1755.7 1199.1L1761.2 1199.2L1766.7 1199.3L1772.2 1199.4L1777.6 1199.6L1783.1 1199.7L1788.6 1199.8L1794.1 1200.0L1799.6 1200.1L1805.0 1200.2L1810.5 1200.4L1816.0 1200.5L1821.4 1200.7L1826.9 1200.8" fill="none" stroke="#00ff00" stroke-width="9.7" stroke-dasharray="30.4 12.1" stroke-linejoin="round"/></g>
<g clip-path="url(#cb)"><path d="M116.6 1401.1L121.4 1403.0L126.0 1405.2L130.4 1407.5L134.8 1410.1L139.0 1412.9L143.1 1415.8L147.0 1418.9L150.9 1422.2L154.6 1425.7L158.3 1429.4L161.8 1433.1L165.2 1437.0L168.6 1441.1L171.8 1445.3L175.0 1449.6L178.1 1454.0L181.1 1458.5L184.1 1463.1L186.9 1467.8L189.8 1472.6L192.5 1477.4L195.2 1482.3L197.9 1487.3L200.5 1492.3L203.1 1497.4L205.6 1502.5L208.1 1507.6L210.6 1512.8L213.1 1517.9L215.5 1523.2L217.9 1528.4L220.2 1533.7L222.5 1539.0L224.8 1544.3L227.1 1549.6L229.4 1555.0L231.6 1560.4L233.9 1565.8L236.1 1571.2L238.3 1576.6L240.4 1582.1L242.6 1587.5L244.7 1593.0L246.9 1598.5L249.0 1604.0L251.1 1609.5L253.2 1615.0L255.3 1620.6L257.4 1626.1L259.5 1631.6L261.6 1637.2L263.7 1642.7L265.8 1648.2L267.9 1653.8L270.0 1659.3L272.1 1664.9L274.2 1670.4L276.3 1675.9L278.4 1681.4L280.6 1686.9L282.7 1692.4L284.9 1697.9L287.0 1703.4L289.2 1708.9L291.4 1714.3L293.6 1719.8L295.8 1725.2L298.1 1730.6L300.3 1736.0L302.6 1741.4L304.9 1746.8L307.2 1752.2L309.5 1757.5L311.8 1762.8L314.2 1768.2L316.5 1773.5L318.9 1778.8L321.3 1784.1L323.7 1789.3L326.1 1794.6L328.6 1799.8L331.1 1805.0L333.5 1810.2L336.0 1815.4L338.5 1820.6L341.1 1825.7L343.6 1830.9L346.2 1836.0L348.8 1841.1L351.4 1846.2L354.0 1851.2L356.7 1856.3L359.4 1861.3L362.1 1866.3L364.8 1871.3L367.5 1876.3L370.3 1881.2L373.0 1886.1L375.8 1891.0L378.7 1895.9L381.5 1900.8L384.4 1905.6L387.3 1910.4L390.2 1915.2L393.1 1920.0L396.1 1924.8L399.1 1929.5L402.1 1934.2L405.1 1938.9L408.1 1943.5L411.2 1948.2L414.3 1952.8L417.5 1957.4L420.6 1961.9L423.8 1966.5L427.0 1971.0L430.2 1975.4L433.5 1979.9L436.8 1984.3L440.1 1988.7L443.4 1993.1L446.8 1997.5L450.2 2001.8L453.6 2006.1L457.1 2010.4L460.6 2014.6L464.1 2018.8L467.6 2023.0L471.1 2027.1L474.7 2031.2L478.3 2035.3L481.9 2039.4L485.6 2043.4L489.3 2047.4L493.0 2051.3L496.7 2055.2L500.4 2059.1L504.2 2062.9L508.0 2066.7L511.8 2070.5L515.6 2074.2L519.5 2077.9L523.4 2081.6L527.3 2085.2L531.2 2088.8L535.2 2092.3L539.2 2095.8L543.1 2099.3L547.2 2102.7L551.2 2106.0L555.3 2109.4L559.3 2112.6L563.4 2115.9L567.5 2119.1L571.7 2122.2L575.8 2125.3L580.0 2128.4L584.2 2131.4L588.4 2134.3L592.7 2137.3L596.9 2140.1L601.2 2142.9L605.5 2145.7L609.8 2148.4L614.1 2151.1L618.4 2153.8L622.8 2156.4L627.2 2158.9L631.5 2161.4L635.9 2163.9L640.4 2166.3L644.8 2168.7L649.2 2171.1L653.7 2173.4L658.2 2175.7L662.7 2177.9L667.2 2180.1L671.7 2182.3L676.2 2184.4L680.7 2186.5L685.3 2188.6L689.8 2190.6L694.4 2192.6L699.0 2194.6L703.6 2196.5L708.2 2198.5L712.8 2200.3L717.4 2202.2L722.0 2204.0L726.6 2205.8L731.3 2207.6L735.9 2209.4L740.6 2211.1L745.3 2212.8L749.9 2214.5L754.6 2216.2L759.3 2217.8L764.0 2219.4L768.7 2221.0L773.4 2222.6L778.1 2224.2L782.8 2225.7L787.5 2227.2L792.2 2228.7L796.9 2230.2L801.6 2231.7L806.3 2233.2L811.0 2234.7L815.8 2236.1L820.5 2237.5L825.2 2238.9L829.9 2240.3L834.7 2241.7L839.4 2243.1L844.1 2244.5L848.9 2245.8L853.6 2247.2L858.3 2248.5L863.1 2249.8L867.8 2251.1L872.6 2252.4L877.3 2253.7L882.0 2255.0L886.8 2256.2L891.5 2257.5L896.3 2258.7L901.0 2259.9L905.8 2261.2L910.5 2262.4L915.3 2263.5L920.0 2264.7L924.8 2265.9L929.6 2267.0L934.3 2268.2L939.1 2269.3L943.8 2270.4L948.6 2271.6L953.4 2272.7L958.1 2273.8L962.9 2274.8L967.7 2275.9L972.4 2277.0L977.2 2278.0L982.0 2279.0L986.7 2280.1L991.5 2281.1L996.3 2282.1L1001.1 2283.1L1005.8 2284.1L1010.6 2285.0L1015.4 2286.0L1020.2 2287.0L1025.0 2287.9L1029.8 2288.8L1034.5 2289.8L1039.3 2290.7L1044.1 2291.6L1048.9 2292.5L1053.7 2293.3L1058.5 2294.2L1063.3 2295.1L1068.1 2295.9L1072.9 2296.8L1077.6 2297.6L1082.4 2298.5L1087.2 2299.3L1092.0 2300.1L1096.8 2300.9L1101.6 2301.7L1106.4 2302.5L1111.2 2303.2L1116.0 2304.0L1120.8 2304.8L1125.6 2305.5L1130.4 2306.2L1135.2 2307.0L1140.1 2307.7L1144.9 2308.4L1149.7 2309.1L1154.5 2309.8L1159.3 2310.5L1164.1 2311.2L1168.9 2311.8L1173.7 2312.5L1178.5 2313.2L1183.4 2313.8L1188.2 2314.4L1193.0 2315.1L1197.8 2315.7L1202.6 2316.3L1207.4 2316.9L1212.3 2317.5L1217.1 2318.1L1221.9 2318.7L1226.7 2319.3L1231.5 2319.8L1236.4 2320.4L1241.2 2320.9L1246.0 2321.5L1250.8 2322.0L1255.7 2322.6L1260.5 2323.1L1265.3 2323.6L1270.1 2324.1L1275.0 2324.6L1279.8 2325.1L1284.6 2325.6L1289.5 2326.1L1294.3 2326.6L1299.1 2327.1L1303.9 2327.5L1308.8 2328.0L1313.6 2328.4L1318.4 2328.9L1323.3 2329.3L1328.1 2329.7L1332.9 2330.2L1337.8 2330.6L1342.6 2331.0L1347.5 2331.4L1352.3 2331.8L1357.1 2332.2L1362.0 2332.6L1366.8 2333.0L1371.6 2333.4L1376.5 2333.7L1381.3 2334.1L1386.2 2334.5L1391.0 2334.8L1395.8 2335.2L1400.7 2335.5L1405.5 2335.9L1410.4 2336.2L1415.2 2336.5L1420.1 2336.9L1424.9 2337.2L1429.7 2337.5L1434.6 2337.8L1439.4 2338.1L1444.3 2338.4L1449.1 2338.7L1454.0 2339.0L1458.8 2339.3L1463.6 2339.6L1468.5 2339.9L1473.3 2340.1L1478.2 2340.4L1483.0 2340.7L1487.9 2340.9L1492.7 2341.2L1497.6 2341.4L1502.4 2341.7L1507.3 2341.9L1512.1 2342.2L1517.0 2342.4L1521.8 2342.6L1526.7 2342.9L1531.5 2343.1L1536.3 2343.3L1541.2 2343.5L1546.0 2343.7L1550.9 2344.0L1555.7 2344.2L1560.6 2344.4L1565.4 2344.6L1570.3 2344.8L1575.1 2345.0L1580.0 2345.2L1584.8 2345.3L1589.7 2345.5L1594.5 2345.7L1599.4 2345.9L1604.2 2346.1L1609.1 2346.2L1613.9 2346.4L1618.8 2346.6L1623.6 2346.7L1628.5 2346.9L1633.3 2347.1L1638.2 2347.2L1643.0 2347.4L1647.9 2347.5L1652.7 2347.7L1657.5 2347.8L1662.4 2348.0L1667.2 2348.1L1672.1 2348.3L1676.9 2348.4L1681.8 2348.6L1686.6 2348.7L1691.5 2348.8L1696.3 2349.0L1701.2 2349.1L1706.0 2349.2L1710.9 2349.4L1715.7 2349.5L1720.5 2349.6L1725.4 2349.7L1730.2 2349.9L1735.1 2350.0L1739.9 2350.1L1744.8 2350.2L1749.6 2350.4L1754.4 2350.5L1759.3 2350.6L1764.1 2350.7L1769.0 2350.8L1773.8 2350.9L1778.7 2351.1L1783.5 2351.2L1788.3 2351.3L1793.2 2351.4L1798.0 2351.5L1802.9 2351.6L1807.7 2351.7L1812.5 2351.9L1817.4 2352.0L1822.2 2352.1L1827.0 2352.2" fill="none" stroke="#0000ff" stroke-width="9.7" stroke-dasharray="30.4 12.1" stroke-linejoin="round"/>
<path d="M116.7 1399.9L118.7 1405.8L120.6 1411.7L122.6 1417.6L124.5 1423.5L126.4 1429.4L128.2 1435.3L130.0 1441.3L131.8 1447.2L133.6 1453.2L135.3 1459.2L137.1 1465.2L138.8 1471.2L140.4 1477.2L142.1 1483.2L143.7 1489.2L145.3 1495.2L146.9 1501.3L148.5 1507.3L150.0 1513.4L151.5 1519.5L153.1 1525.6L154.5 1531.6L156.0 1537.7L157.5 1543.8L158.9 1549.9L160.4 1556.1L161.8 1562.2L163.2 1568.3L164.6 1574.4L166.0 1580.6L167.3 1586.7L168.7 1592.9L170.1 1599.0L171.4 1605.2L172.7 1611.3L174.1 1617.5L175.4 1623.7L176.7 1629.9L178.0 1636.0L179.3 1642.2L180.6 1648.4L181.9 1654.6L183.2 1660.8L184.5 1666.9L185.8 1673.1L187.1 1679.3L188.4 1685.5L189.7 1691.7L191.0 1697.9L192.3 1704.1L193.6 1710.3L195.0 1716.5L196.3 1722.7L197.6 1728.9L198.9 1735.0L200.3 1741.2L201.6 1747.4L203.0 1753.6L204.3 1759.8L205.7 1766.0L207.1 1772.1L208.5 1778.3L209.9 1784.5L211.3 1790.6L212.7 1796.8L214.2 1803.0L215.7 1809.1L217.1 1815.3L218.6 1821.4L220.1 1827.6L221.7 1833.7L223.2 1839.8L224.8 1845.9L226.4 1852.1L228.0 1858.2L229.6 1864.3L231.2 1870.3L232.9 1876.4L234.6 1882.5L236.3 1888.6L238.1 1894.6L239.8 1900.7L241.6 1906.7L243.4 1912.7L245.3 1918.7L247.1 1924.7L249.0 1930.7L251.0 1936.6L252.9 1942.6L254.9 1948.5L256.9 1954.5L258.9 1960.4L261.0 1966.3L263.1 1972.1L265.3 1978.0L267.4 1983.8L269.6 1989.7L271.9 1995.5L274.2 2001.3L276.5 2007.0L278.8 2012.8L281.2 2018.5L283.6 2024.2L286.1 2029.9L288.6 2035.6L291.1 2041.2L293.7 2046.8L296.3 2052.4L299.0 2057.9L301.7 2063.4L304.5 2068.9L307.3 2074.3L310.1 2079.6L313.0 2085.0L316.0 2090.2L319.0 2095.4L322.0 2100.6L325.1 2105.6L328.3 2110.7L331.5 2115.6L334.8 2120.5L338.1 2125.3L341.5 2130.1L344.9 2134.7L348.4 2139.3L352.0 2143.8L355.6 2148.2L359.3 2152.5L363.0 2156.8L366.8 2160.9L370.7 2165.0L374.6 2168.9L378.5 2172.8L382.6 2176.6L386.6 2180.4L390.8 2184.0L394.9 2187.6L399.2 2191.0L403.4 2194.4L407.7 2197.8L412.1 2201.0L416.5 2204.2L420.9 2207.2L425.4 2210.2L429.9 2213.2L434.5 2216.0L439.1 2218.8L443.7 2221.5L448.3 2224.1L453.0 2226.6L457.7 2229.1L462.5 2231.5L467.3 2233.8L472.1 2236.1L476.9 2238.3L481.7 2240.4L486.6 2242.4L491.5 2244.4L496.4 2246.3L501.3 2248.1L506.3 2249.9L511.2 2251.6L516.2 2253.2L521.2 2254.8L526.2 2256.3L531.2 2257.7L536.2 2259.1L541.3 2260.4L546.3 2261.6L551.3 2262.8L556.4 2263.9L561.4 2265.0L566.5 2266.0L571.5 2266.9L576.6 2267.8L581.7 2268.7L586.7 2269.5L591.8 2270.2L596.9 2270.9L602.0 2271.6L607.1 2272.2L612.2 2272.8L617.3 2273.3L622.4 2273.8L627.5 2274.3L632.6 2274.7L637.7 2275.1L642.8 2275.4L648.0 2275.8L653.1 2276.1L658.2 2276.3L663.3 2276.6L668.5 2276.8L673.6 2277.0L678.7 2277.2L683.9 2277.4L689.0 2277.5L694.2 2277.6L699.3 2277.7L704.4 2277.8L709.6 2277.9L714.7 2278.0L719.9 2278.1L725.0 2278.2L730.1 2278.2L735.3 2278.3L740.4 2278.4L745.6 2278.4L750.7 2278.5L755.9 2278.5L761.0 2278.6L766.1 2278.7L771.3 2278.7L776.4 2278.8L781.6 2278.8L786.7 2278.9L791.8 2278.9L797.0 2279.0L802.1 2279.0L807.2 2279.1L812.4 2279.1L817.5 2279.2L822.6 2279.2L827.8 2279.3L832.9 2279.3L838.1 2279.4L843.2 2279.4L848.3 2279.5L853.5 2279.5L858.6 2279.5L863.7 2279.6L868.9 2279.6L874.0 2279.7L879.1 2279.7L884.2 2279.7L889.4 2279.8L894.5 2279.8L899.6 2279.8L904.8 2279.9L909.9 2279.9L915.0 2279.9L920.2 2280.0L925.3 2280.0L930.4 2280.0L935.6 2280.1L940.7 2280.1L945.8 2280.1L950.9 2280.2L956.1 2280.2L961.2 2280.2L966.3 2280.2L971.4 2280.3L976.6 2280.3L981.7 2280.3L986.8 2280.3L992.0 2280.4L997.1 2280.4L1002.2 2280.4L1007.3 2280.4L1012.5 2280.4L1017.6 2280.5L1022.7 2280.5L1027.8 2280.5L1033.0 2280.5L1038.1 2280.5L1043.2 2280.6L1048.3 2280.6L1053.5 2280.6L1058.6 2280.6L1063.7 2280.6L1068.8 2280.6L1073.9 2280.6L1079.1 2280.7L1084.2 2280.7L1089.3 2280.7L1094.4 2280.7L1099.6 2280.7L1104.7 2280.7L1109.8 2280.7L1114.9 2280.7L1120.0 2280.7L1125.2 2280.7L1130.3 2280.7L1135.4 2280.8L1140.5 2280.8L1145.6 2280.8L1150.8 2280.8L1155.9 2280.8L1161.0 2280.8L1166.1 2280.8L1171.3 2280.8L1176.4 2280.8L1181.5 2280.8L1186.6 2280.8L1191.7 2280.8L1196.9 2280.8L1202.0 2280.8L1207.1 2280.8L1212.2 2280.8L1217.3 2280.8L1222.5 2280.8L1227.6 2280.8L1232.7 2280.8L1237.8 2280.8L1242.9 2280.8L1248.0 2280.8L1253.2 2280.8L1258.3 2280.8L1263.4 2280.8L1268.5 2280.8L1273.6 2280.8L1278.8 2280.8L1283.9 2280.8L1289.0 2280.8L1294.1 2280.8L1299.2 2280.8L1304.4 2280.8L1309.5 2280.8L1314.6 2280.8L1319.7 2280.8L1324.8 2280.8L1330.0 2280.8L1335.1 2280.8L1340.2 2280.8L1345.3 2280.8L1350.4 2280.8L1355.5 2280.8L1360.7 2280.7L1365.8 2280.7L1370.9 2280.7L1376.0 2280.7L1381.1 2280.7L1386.3 2280.7L1391.4 2280.7L1396.5 2280.7L1401.6 2280.7L1406.7 2280.7L1411.9 2280.7L1417.0 2280.7L1422.1 2280.7L1427.2 2280.7L1432.3 2280.7L1437.5 2280.7L1442.6 2280.6L1447.7 2280.6L1452.8 2280.6L1457.9 2280.6L1463.1 2280.6L1468.2 2280.6L1473.3 2280.6L1478.4 2280.6L1483.5 2280.6L1488.7 2280.6L1493.8 2280.6L1498.9 2280.6L1504.0 2280.6L1509.1 2280.6L1514.3 2280.6L1519.4 2280.6L1524.5 2280.5L1529.6 2280.5L1534.7 2280.5L1539.9 2280.5L1545.0 2280.5L1550.1 2280.5L1555.2 2280.5L1560.4 2280.5L1565.5 2280.5L1570.6 2280.5L1575.7 2280.5L1580.9 2280.5L1586.0 2280.5L1591.1 2280.5L1596.2 2280.5L1601.3 2280.5L1606.5 2280.5L1611.6 2280.5L1616.7 2280.5L1621.8 2280.5L1627.0 2280.5L1632.1 2280.5L1637.2 2280.5L1642.3 2280.5L1647.5 2280.4L1652.6 2280.4L1657.7 2280.4L1662.9 2280.4L1668.0 2280.4L1673.1 2280.4L1678.2 2280.4L1683.4 2280.4L1688.5 2280.4L1693.6 2280.4L1698.7 2280.4L1703.9 2280.4L1709.0 2280.5L1714.1 2280.5L1719.3 2280.5L1724.4 2280.5L1729.5 2280.5L1734.7 2280.5L1739.8 2280.5L1744.9 2280.5L1750.0 2280.5L1755.2 2280.5L1760.3 2280.5L1765.4 2280.5L1770.6 2280.5L1775.7 2280.5L1780.8 2280.5L1786.0 2280.5L1791.1 2280.5L1796.2 2280.5L1801.4 2280.6L1806.5 2280.6L1811.6 2280.6L1816.8 2280.6L1821.9 2280.6L1827.0 2280.6" fill="none" stroke="#800080" stroke-width="9.7" stroke-dasharray="30.4 12.1" stroke-linejoin="round"/>
<path d="M116.6 1401.2L121.5 1401.0L126.5 1401.0L131.3 1401.0L136.2 1401.2L140.9 1401.5L145.7 1401.9L150.4 1402.4L155.0 1403.0L159.6 1403.7L164.2 1404.6L168.7 1405.5L173.2 1406.5L177.7 1407.6L182.1 1408.8L186.4 1410.1L190.8 1411.6L195.1 1413.0L199.3 1414.6L203.5 1416.3L207.7 1418.1L211.9 1419.9L216.0 1421.8L220.0 1423.8L224.1 1425.9L228.1 1428.1L232.1 1430.3L236.0 1432.7L240.0 1435.0L243.8 1437.5L247.7 1440.0L251.5 1442.6L255.3 1445.3L259.1 1448.0L262.9 1450.8L266.6 1453.7L270.3 1456.6L274.0 1459.6L277.6 1462.6L281.3 1465.7L284.9 1468.8L288.5 1472.0L292.0 1475.3L295.6 1478.6L299.1 1481.9L302.6 1485.3L306.1 1488.7L309.5 1492.2L313.0 1495.7L316.4 1499.2L319.8 1502.8L323.2 1506.5L326.6 1510.1L330.0 1513.8L333.4 1517.5L336.7 1521.3L340.1 1525.0L343.4 1528.8L346.7 1532.7L350.0 1536.5L353.3 1540.4L356.6 1544.3L359.8 1548.2L363.1 1552.2L366.4 1556.2L369.6 1560.1L372.9 1564.2L376.1 1568.2L379.3 1572.2L382.6 1576.3L385.8 1580.3L389.0 1584.4L392.2 1588.5L395.4 1592.6L398.6 1596.7L401.9 1600.8L405.1 1604.9L408.3 1609.0L411.5 1613.2L414.7 1617.3L417.9 1621.4L421.1 1625.6L424.3 1629.7L427.5 1633.8L430.8 1637.9L434.0 1642.0L437.2 1646.2L440.5 1650.3L443.7 1654.4L446.9 1658.5L450.2 1662.5L453.5 1666.6L456.7 1670.7L460.0 1674.7L463.3 1678.7L466.6 1682.7L469.9 1686.7L473.2 1690.7L476.5 1694.7L479.8 1698.7L483.2 1702.6L486.5 1706.6L489.9 1710.5L493.2 1714.4L496.6 1718.3L500.0 1722.2L503.4 1726.0L506.8 1729.9L510.2 1733.7L513.6 1737.5L517.0 1741.3L520.4 1745.1L523.8 1748.9L527.3 1752.7L530.7 1756.4L534.2 1760.2L537.7 1763.9L541.1 1767.6L544.6 1771.3L548.1 1775.0L551.6 1778.7L555.1 1782.3L558.6 1786.0L562.1 1789.6L565.7 1793.2L569.2 1796.8L572.8 1800.4L576.3 1803.9L579.9 1807.5L583.4 1811.0L587.0 1814.5L590.6 1818.0L594.2 1821.5L597.8 1825.0L601.4 1828.5L605.0 1831.9L608.6 1835.3L612.3 1838.7L615.9 1842.1L619.6 1845.5L623.2 1848.9L626.9 1852.2L630.5 1855.6L634.2 1858.9L637.9 1862.2L641.6 1865.5L645.3 1868.8L649.0 1872.0L652.7 1875.3L656.5 1878.5L660.2 1881.7L663.9 1884.9L667.7 1888.1L671.4 1891.2L675.2 1894.4L679.0 1897.5L682.7 1900.6L686.5 1903.7L690.3 1906.8L694.1 1909.9L697.9 1912.9L701.7 1916.0L705.5 1919.0L709.4 1922.0L713.2 1925.0L717.0 1927.9L720.9 1930.9L724.8 1933.8L728.6 1936.7L732.5 1939.6L736.4 1942.5L740.3 1945.4L744.1 1948.2L748.0 1951.1L752.0 1953.9L755.9 1956.7L759.8 1959.4L763.7 1962.2L767.7 1965.0L771.6 1967.7L775.6 1970.4L779.5 1973.1L783.5 1975.8L787.4 1978.4L791.4 1981.1L795.4 1983.7L799.4 1986.3L803.4 1988.9L807.4 1991.5L811.4 1994.0L815.5 1996.6L819.5 1999.1L823.5 2001.6L827.6 2004.1L831.6 2006.5L835.7 2009.0L839.7 2011.4L843.8 2013.8L847.9 2016.2L852.0 2018.6L856.0 2020.9L860.1 2023.3L864.2 2025.6L868.4 2027.9L872.5 2030.2L876.6 2032.4L880.7 2034.7L884.9 2036.9L889.0 2039.1L893.2 2041.3L897.3 2043.5L901.5 2045.7L905.6 2047.8L909.8 2050.0L914.0 2052.1L918.2 2054.2L922.4 2056.2L926.6 2058.3L930.8 2060.4L935.0 2062.4L939.2 2064.4L943.4 2066.4L947.7 2068.4L951.9 2070.4L956.1 2072.3L960.4 2074.2L964.6 2076.2L968.9 2078.1L973.1 2079.9L977.4 2081.8L981.7 2083.7L986.0 2085.5L990.2 2087.3L994.5 2089.2L998.8 2090.9L1003.1 2092.7L1007.4 2094.5L1011.7 2096.2L1016.0 2098.0L1020.4 2099.7L1024.7 2101.4L1029.0 2103.1L1033.3 2104.8L1037.7 2106.5L1042.0 2108.1L1046.4 2109.7L1050.7 2111.4L1055.1 2113.0L1059.4 2114.6L1063.8 2116.1L1068.1 2117.7L1072.5 2119.3L1076.9 2120.8L1081.3 2122.3L1085.7 2123.9L1090.0 2125.4L1094.4 2126.8L1098.8 2128.3L1103.2 2129.8L1107.6 2131.2L1112.0 2132.7L1116.5 2134.1L1120.9 2135.5L1125.3 2136.9L1129.7 2138.3L1134.1 2139.7L1138.6 2141.0L1143.0 2142.4L1147.4 2143.7L1151.9 2145.1L1156.3 2146.4L1160.8 2147.7L1165.2 2149.0L1169.7 2150.3L1174.1 2151.5L1178.6 2152.8L1183.0 2154.0L1187.5 2155.3L1192.0 2156.5L1196.4 2157.7L1200.9 2158.9L1205.4 2160.1L1209.9 2161.3L1214.3 2162.5L1218.8 2163.6L1223.3 2164.8L1227.8 2165.9L1232.3 2167.0L1236.8 2168.2L1241.3 2169.3L1245.8 2170.4L1250.3 2171.5L1254.8 2172.5L1259.3 2173.6L1263.8 2174.7L1268.3 2175.7L1272.8 2176.8L1277.3 2177.8L1281.8 2178.8L1286.4 2179.8L1290.9 2180.8L1295.4 2181.8L1299.9 2182.8L1304.4 2183.8L1309.0 2184.8L1313.5 2185.7L1318.0 2186.7L1322.5 2187.6L1327.1 2188.5L1331.6 2189.5L1336.1 2190.4L1340.7 2191.3L1345.2 2192.2L1349.8 2193.1L1354.3 2194.0L1358.8 2194.9L1363.4 2195.7L1367.9 2196.6L1372.5 2197.5L1377.0 2198.3L1381.5 2199.2L1386.1 2200.0L1390.6 2200.8L1395.2 2201.6L1399.7 2202.4L1404.3 2203.3L1408.8 2204.1L1413.4 2204.8L1417.9 2205.6L1422.5 2206.4L1427.0 2207.2L1431.6 2208.0L1436.1 2208.7L1440.7 2209.5L1445.2 2210.2L1449.8 2211.0L1454.3 2211.7L1458.9 2212.4L1463.4 2213.2L1468.0 2213.9L1472.5 2214.6L1477.1 2215.3L1481.6 2216.0L1486.2 2216.7L1490.7 2217.4L1495.3 2218.1L1499.8 2218.8L1504.3 2219.5L1508.9 2220.1L1513.4 2220.8L1518.0 2221.5L1522.5 2222.1L1527.1 2222.8L1531.6 2223.4L1536.2 2224.1L1540.7 2224.7L1545.2 2225.4L1549.8 2226.0L1554.3 2226.6L1558.8 2227.3L1563.4 2227.9L1567.9 2228.5L1572.4 2229.1L1577.0 2229.7L1581.5 2230.3L1586.0 2231.0L1590.6 2231.6L1595.1 2232.2L1599.6 2232.8L1604.1 2233.4L1608.7 2233.9L1613.2 2234.5L1617.7 2235.1L1622.2 2235.7L1626.7 2236.3L1631.2 2236.9L1635.7 2237.4L1640.2 2238.0L1644.7 2238.6L1649.3 2239.2L1653.8 2239.7L1658.3 2240.3L1662.7 2240.9L1667.2 2241.4L1671.7 2242.0L1676.2 2242.6L1680.7 2243.1L1685.2 2243.7L1689.7 2244.2L1694.1 2244.8L1698.6 2245.3L1703.1 2245.9L1707.6 2246.4L1712.0 2247.0L1716.5 2247.6L1721.0 2248.1L1725.4 2248.7L1729.9 2249.2L1734.3 2249.8L1738.8 2250.3L1743.2 2250.9L1747.7 2251.4L1752.1 2252.0L1756.5 2252.5L1761.0 2253.1L1765.4 2253.6L1769.8 2254.2L1774.3 2254.7L1778.7 2255.3L1783.1 2255.8L1787.5 2256.4L1791.9 2256.9L1796.3 2257.5L1800.7 2258.0L1805.1 2258.6L1809.5 2259.2L1813.9 2259.7L1818.3 2260.3L1822.6 2260.8L1827.0 2261.4" fill="none" stroke="#996633" stroke-width="9.7" stroke-dasharray="30.4 12.1" stroke-linejoin="round"/>
<path d="M112.1 1401.6L116.8 1401.6L121.6 1401.5L126.5 1401.4L131.4 1401.2L136.3 1401.0L141.3 1400.8L146.3 1400.6L151.3 1400.4L156.3 1400.2L161.4 1400.0L166.5 1399.9L171.5 1399.8L176.6 1399.7L181.7 1399.7L186.8 1399.8L191.9 1400.0L196.9 1400.2L201.9 1400.6L207.0 1401.0L212.0 1401.6L216.9 1402.3L221.8 1403.1L226.7 1404.1L231.6 1405.2L236.4 1406.4L241.2 1407.8L245.9 1409.3L250.5 1410.9L255.1 1412.7L259.6 1414.7L264.1 1416.8L268.5 1419.1L272.8 1421.5L277.1 1424.1L281.2 1426.8L285.3 1429.7L289.3 1432.8L293.1 1436.0L296.9 1439.5L300.6 1443.1L304.2 1446.9L307.7 1450.8L311.1 1455.0L314.4 1459.3L317.6 1463.7L320.7 1468.3L323.7 1473.0L326.6 1477.9L329.5 1482.9L332.3 1488.0L335.0 1493.1L337.7 1498.4L340.3 1503.8L342.8 1509.3L345.2 1514.8L347.7 1520.4L350.0 1526.1L352.3 1531.8L354.6 1537.5L356.8 1543.3L359.0 1549.1L361.2 1554.9L363.3 1560.8L365.4 1566.6L367.5 1572.4L369.6 1578.2L371.6 1584.0L373.7 1589.8L375.7 1595.6L377.7 1601.4L379.7 1607.1L381.6 1612.8L383.6 1618.6L385.5 1624.3L387.5 1630.0L389.4 1635.7L391.3 1641.3L393.2 1647.0L395.1 1652.7L396.9 1658.4L398.8 1664.0L400.7 1669.7L402.5 1675.3L404.4 1681.0L406.2 1686.6L408.1 1692.2L409.9 1697.9L411.7 1703.5L413.6 1709.2L415.4 1714.8L417.2 1720.5L419.1 1726.1L420.9 1731.8L422.7 1737.4L424.5 1743.1L426.4 1748.8L428.2 1754.5L430.0 1760.1L431.9 1765.8L433.7 1771.5L435.6 1777.3L437.4 1783.0L439.3 1788.7L441.2 1794.5L443.0 1800.2L444.9 1806.0L446.8 1811.7L448.7 1817.5L450.7 1823.2L452.6 1829.0L454.5 1834.8L456.5 1840.5L458.5 1846.3L460.5 1852.0L462.5 1857.8L464.5 1863.5L466.5 1869.2L468.6 1875.0L470.6 1880.7L472.7 1886.4L474.8 1892.1L477.0 1897.8L479.1 1903.4L481.3 1909.1L483.5 1914.7L485.7 1920.3L487.9 1925.9L490.2 1931.5L492.5 1937.1L494.8 1942.6L497.2 1948.1L499.5 1953.6L501.9 1959.1L504.4 1964.5L506.8 1969.9L509.3 1975.3L511.8 1980.6L514.4 1985.9L517.0 1991.2L519.6 1996.5L522.2 2001.7L524.9 2006.9L527.6 2012.0L530.4 2017.1L533.2 2022.2L536.0 2027.2L538.9 2032.2L541.8 2037.1L544.7 2042.0L547.7 2046.9L550.7 2051.7L553.8 2056.4L556.9 2061.1L560.1 2065.8L563.3 2070.4L566.5 2075.0L569.8 2079.5L573.1 2083.9L576.5 2088.3L579.9 2092.7L583.4 2096.9L586.9 2101.2L590.5 2105.3L594.1 2109.4L597.8 2113.5L601.5 2117.5L605.2 2121.4L609.0 2125.2L612.9 2129.1L616.7 2132.8L620.7 2136.5L624.6 2140.1L628.6 2143.7L632.7 2147.2L636.7 2150.7L640.8 2154.1L645.0 2157.4L649.2 2160.7L653.4 2164.0L657.6 2167.1L661.9 2170.3L666.2 2173.3L670.5 2176.3L674.9 2179.2L679.3 2182.1L683.7 2185.0L688.1 2187.7L692.6 2190.4L697.1 2193.1L701.6 2195.7L706.1 2198.2L710.7 2200.7L715.3 2203.1L719.9 2205.5L724.5 2207.8L729.1 2210.1L733.8 2212.3L738.4 2214.4L743.1 2216.5L747.8 2218.5L752.5 2220.5L757.2 2222.4L761.9 2224.3L766.7 2226.1L771.4 2227.8L776.2 2229.5L781.0 2231.2L785.7 2232.8L790.5 2234.3L795.3 2235.8L800.1 2237.2L804.9 2238.6L809.7 2240.0L814.6 2241.3L819.4 2242.5L824.2 2243.7L829.1 2244.9L834.0 2246.0L838.8 2247.1L843.7 2248.2L848.6 2249.2L853.4 2250.1L858.3 2251.1L863.2 2252.0L868.1 2252.8L873.0 2253.6L877.9 2254.4L882.9 2255.2L887.8 2255.9L892.7 2256.6L897.6 2257.3L902.6 2257.9L907.5 2258.6L912.4 2259.2L917.4 2259.7L922.3 2260.3L927.3 2260.8L932.2 2261.3L937.2 2261.8L942.1 2262.2L947.1 2262.7L952.1 2263.1L957.0 2263.5L962.0 2263.9L967.0 2264.2L971.9 2264.6L976.9 2264.9L981.9 2265.3L986.8 2265.6L991.8 2265.9L996.8 2266.2L1001.7 2266.5L1006.7 2266.8L1011.7 2267.1L1016.6 2267.4L1021.6 2267.7L1026.6 2267.9L1031.5 2268.2L1036.5 2268.5L1041.4 2268.8L1046.4 2269.0L1051.3 2269.3L1056.3 2269.6L1061.2 2269.8L1066.2 2270.1L1071.1 2270.4L1076.1 2270.6L1081.0 2270.9L1086.0 2271.2L1090.9 2271.4L1095.9 2271.7L1100.8 2271.9L1105.7 2272.2L1110.7 2272.4L1115.6 2272.7L1120.5 2272.9L1125.5 2273.2L1130.4 2273.4L1135.3 2273.7L1140.3 2273.9L1145.2 2274.1L1150.1 2274.4L1155.1 2274.6L1160.0 2274.8L1164.9 2275.1L1169.9 2275.3L1174.8 2275.5L1179.7 2275.7L1184.6 2275.9L1189.6 2276.1L1194.5 2276.3L1199.4 2276.5L1204.3 2276.7L1209.3 2276.9L1214.2 2277.1L1219.1 2277.3L1224.0 2277.5L1229.0 2277.7L1233.9 2277.8L1238.8 2278.0L1243.7 2278.2L1248.7 2278.3L1253.6 2278.5L1258.5 2278.6L1263.4 2278.8L1268.4 2278.9L1273.3 2279.0L1278.2 2279.2L1283.2 2279.3L1288.1 2279.4L1293.0 2279.5L1298.0 2279.6L1302.9 2279.8L1307.8 2279.8L1312.8 2279.9L1317.7 2280.0L1322.6 2280.1L1327.6 2280.2L1332.5 2280.3L1337.4 2280.3L1342.4 2280.4L1347.3 2280.5L1352.3 2280.5L1357.2 2280.6L1362.1 2280.6L1367.1 2280.7L1372.0 2280.7L1377.0 2280.8L1381.9 2280.8L1386.8 2280.9L1391.8 2280.9L1396.7 2280.9L1401.7 2280.9L1406.6 2281.0L1411.6 2281.0L1416.5 2281.0L1421.4 2281.0L1426.4 2281.0L1431.3 2281.0L1436.3 2281.0L1441.2 2281.0L1446.2 2281.0L1451.1 2281.0L1456.1 2281.0L1461.0 2281.0L1466.0 2281.0L1470.9 2281.0L1475.9 2281.0L1480.8 2280.9L1485.8 2280.9L1490.7 2280.9L1495.7 2280.9L1500.6 2280.9L1505.5 2280.8L1510.5 2280.8L1515.4 2280.8L1520.4 2280.8L1525.3 2280.7L1530.3 2280.7L1535.2 2280.7L1540.2 2280.6L1545.1 2280.6L1550.1 2280.6L1555.0 2280.5L1560.0 2280.5L1564.9 2280.5L1569.9 2280.4L1574.8 2280.4L1579.8 2280.4L1584.7 2280.3L1589.7 2280.3L1594.6 2280.2L1599.6 2280.2L1604.5 2280.2L1609.5 2280.1L1614.4 2280.1L1619.4 2280.1L1624.3 2280.0L1629.3 2280.0L1634.2 2280.0L1639.2 2279.9L1644.1 2279.9L1649.1 2279.9L1654.0 2279.9L1659.0 2279.8L1663.9 2279.8L1668.9 2279.8L1673.8 2279.8L1678.8 2279.8L1683.7 2279.7L1688.7 2279.7L1693.6 2279.7L1698.6 2279.7L1703.5 2279.7L1708.5 2279.7L1713.4 2279.7L1718.4 2279.7L1723.3 2279.7L1728.2 2279.7L1733.2 2279.7L1738.1 2279.7L1743.1 2279.7L1748.0 2279.7L1753.0 2279.7L1757.9 2279.7L1762.8 2279.7L1767.8 2279.8L1772.7 2279.8L1777.7 2279.8L1782.6 2279.8L1787.5 2279.9L1792.5 2279.9L1797.4 2280.0L1802.4 2280.0L1807.3 2280.1L1812.2 2280.1L1817.2 2280.2L1822.1 2280.2L1827.0 2280.3" fill="none" stroke="#ff8080" stroke-width="9.7" stroke-dasharray="30.4 12.1" stroke-linejoin="round"/>
<path d="M116.5 1396.0L116.1 1401.4L115.8 1406.9L115.4 1412.4L115.2 1418.0L114.9 1423.6L114.8 1429.3L114.6 1435.0L114.5 1440.7L114.5 1446.5L114.5 1452.3L114.5 1458.1L114.7 1463.9L114.8 1469.8L115.0 1475.7L115.3 1481.6L115.6 1487.5L116.0 1493.4L116.4 1499.3L116.9 1505.2L117.4 1511.1L118.0 1517.0L118.7 1522.9L119.4 1528.8L120.2 1534.6L121.0 1540.5L121.9 1546.3L122.9 1552.1L123.9 1557.9L125.0 1563.6L126.2 1569.4L127.4 1575.0L128.7 1580.7L130.1 1586.3L131.6 1591.8L133.1 1597.3L134.6 1602.8L136.3 1608.2L138.0 1613.5L139.8 1618.8L141.7 1624.0L143.6 1629.1L145.7 1634.2L147.8 1639.2L150.0 1644.1L152.2 1649.0L154.6 1653.7L157.0 1658.4L159.5 1663.0L162.1 1667.5L164.7 1671.9L167.5 1676.2L170.3 1680.4L173.2 1684.5L176.2 1688.5L179.3 1692.4L182.5 1696.2L185.7 1699.9L189.0 1703.5L192.4 1707.0L195.8 1710.5L199.3 1713.9L202.9 1717.1L206.6 1720.3L210.3 1723.5L214.0 1726.5L217.8 1729.5L221.7 1732.4L225.6 1735.2L229.5 1737.9L233.6 1740.6L237.6 1743.2L241.7 1745.8L245.8 1748.2L250.0 1750.7L254.2 1753.0L258.4 1755.3L262.7 1757.6L267.0 1759.8L271.4 1762.0L275.7 1764.1L280.1 1766.1L284.5 1768.1L288.9 1770.1L293.3 1772.0L297.8 1773.9L302.2 1775.7L306.7 1777.5L311.2 1779.3L315.6 1781.0L320.1 1782.7L324.6 1784.4L329.1 1786.1L333.6 1787.7L338.1 1789.3L342.6 1790.9L347.1 1792.4L351.6 1793.9L356.1 1795.4L360.6 1796.9L365.1 1798.3L369.6 1799.7L374.1 1801.1L378.6 1802.4L383.1 1803.8L387.6 1805.1L392.1 1806.3L396.6 1807.6L401.1 1808.8L405.6 1810.0L410.2 1811.2L414.7 1812.4L419.2 1813.5L423.7 1814.6L428.3 1815.7L432.8 1816.8L437.3 1817.9L441.8 1818.9L446.4 1819.9L450.9 1820.9L455.4 1821.9L460.0 1822.8L464.5 1823.8L469.0 1824.7L473.6 1825.6L478.1 1826.5L482.6 1827.3L487.2 1828.2L491.7 1829.0L496.3 1829.8L500.8 1830.6L505.4 1831.4L509.9 1832.2L514.4 1832.9L519.0 1833.7L523.5 1834.4L528.1 1835.1L532.6 1835.8L537.2 1836.5L541.8 1837.1L546.3 1837.8L550.9 1838.4L555.4 1839.0L560.0 1839.6L564.5 1840.2L569.1 1840.8L573.7 1841.4L578.2 1842.0L582.8 1842.5L587.3 1843.1L591.9 1843.6L596.5 1844.2L601.0 1844.7L605.6 1845.2L610.2 1845.7L614.7 1846.2L619.3 1846.7L623.9 1847.2L628.4 1847.6L633.0 1848.1L637.6 1848.6L642.1 1849.0L646.7 1849.5L651.3 1849.9L655.9 1850.4L660.4 1850.8L665.0 1851.2L669.6 1851.6L674.2 1852.1L678.7 1852.5L683.3 1852.9L687.9 1853.3L692.5 1853.7L697.0 1854.1L701.6 1854.5L706.2 1854.9L710.8 1855.3L715.3 1855.7L719.9 1856.1L724.5 1856.5L729.1 1856.9L733.7 1857.3L738.2 1857.7L742.8 1858.1L747.4 1858.5L752.0 1858.9L756.6 1859.3L761.1 1859.7L765.7 1860.1L770.3 1860.5L774.9 1860.9L779.5 1861.2L784.0 1861.6L788.6 1862.0L793.2 1862.4L797.8 1862.8L802.4 1863.1L807.0 1863.5L811.5 1863.9L816.1 1864.3L820.7 1864.6L825.3 1865.0L829.9 1865.4L834.5 1865.7L839.1 1866.1L843.6 1866.5L848.2 1866.8L852.8 1867.2L857.4 1867.6L862.0 1867.9L866.6 1868.3L871.2 1868.7L875.7 1869.0L880.3 1869.4L884.9 1869.7L889.5 1870.1L894.1 1870.4L898.7 1870.8L903.3 1871.1L907.9 1871.5L912.4 1871.8L917.0 1872.2L921.6 1872.5L926.2 1872.8L930.8 1873.2L935.4 1873.5L940.0 1873.9L944.6 1874.2L949.2 1874.5L953.8 1874.9L958.4 1875.2L962.9 1875.5L967.5 1875.9L972.1 1876.2L976.7 1876.5L981.3 1876.8L985.9 1877.2L990.5 1877.5L995.1 1877.8L999.7 1878.1L1004.3 1878.4L1008.9 1878.8L1013.5 1879.1L1018.1 1879.4L1022.6 1879.7L1027.2 1880.0L1031.8 1880.3L1036.4 1880.6L1041.0 1880.9L1045.6 1881.2L1050.2 1881.5L1054.8 1881.8L1059.4 1882.1L1064.0 1882.4L1068.6 1882.7L1073.2 1883.0L1077.8 1883.3L1082.4 1883.6L1087.0 1883.9L1091.6 1884.2L1096.2 1884.5L1100.8 1884.8L1105.4 1885.1L1110.0 1885.4L1114.5 1885.6L1119.1 1885.9L1123.7 1886.2L1128.3 1886.5L1132.9 1886.8L1137.5 1887.0L1142.1 1887.3L1146.7 1887.6L1151.3 1887.9L1155.9 1888.1L1160.5 1888.4L1165.1 1888.7L1169.7 1888.9L1174.3 1889.2L1178.9 1889.5L1183.5 1889.7L1188.1 1890.0L1192.7 1890.2L1197.3 1890.5L1201.9 1890.7L1206.5 1891.0L1211.1 1891.2L1215.7 1891.5L1220.3 1891.7L1224.9 1892.0L1229.5 1892.2L1234.1 1892.5L1238.7 1892.7L1243.3 1893.0L1247.9 1893.2L1252.5 1893.4L1257.1 1893.7L1261.7 1893.9L1266.3 1894.1L1270.9 1894.4L1275.5 1894.6L1280.1 1894.8L1284.7 1895.1L1289.3 1895.3L1293.9 1895.5L1298.5 1895.7L1303.1 1896.0L1307.7 1896.2L1312.3 1896.4L1316.9 1896.6L1321.5 1896.8L1326.1 1897.0L1330.7 1897.2L1335.3 1897.4L1339.9 1897.7L1344.5 1897.9L1349.1 1898.1L1353.7 1898.3L1358.3 1898.5L1362.9 1898.7L1367.5 1898.9L1372.1 1899.1L1376.7 1899.3L1381.3 1899.4L1385.9 1899.6L1390.5 1899.8L1395.1 1900.0L1399.7 1900.2L1404.3 1900.4L1408.9 1900.6L1413.5 1900.7L1418.1 1900.9L1422.7 1901.1L1427.3 1901.3L1431.9 1901.5L1436.5 1901.6L1441.1 1901.8L1445.7 1902.0L1450.3 1902.1L1454.9 1902.3L1459.5 1902.5L1464.1 1902.6L1468.7 1902.8L1473.3 1903.0L1477.9 1903.1L1482.5 1903.3L1487.1 1903.4L1491.7 1903.6L1496.3 1903.7L1500.9 1903.9L1505.5 1904.0L1510.0 1904.2L1514.6 1904.3L1519.2 1904.4L1523.8 1904.6L1528.4 1904.7L1533.0 1904.9L1537.6 1905.0L1542.2 1905.1L1546.8 1905.3L1551.4 1905.4L1556.0 1905.5L1560.6 1905.6L1565.2 1905.8L1569.8 1905.9L1574.4 1906.0L1579.0 1906.1L1583.6 1906.3L1588.2 1906.4L1592.8 1906.5L1597.4 1906.6L1602.0 1906.7L1606.6 1906.8L1611.2 1906.9L1615.8 1907.0L1620.4 1907.1L1625.0 1907.2L1629.6 1907.3L1634.2 1907.4L1638.8 1907.5L1643.4 1907.6L1648.0 1907.7L1652.6 1907.8L1657.1 1907.9L1661.7 1908.0L1666.3 1908.1L1670.9 1908.2L1675.5 1908.2L1680.1 1908.3L1684.7 1908.4L1689.3 1908.5L1693.9 1908.5L1698.5 1908.6L1703.1 1908.7L1707.7 1908.8L1712.3 1908.8L1716.9 1908.9L1721.5 1908.9L1726.1 1909.0L1730.6 1909.1L1735.2 1909.1L1739.8 1909.2L1744.4 1909.2L1749.0 1909.3L1753.6 1909.3L1758.2 1909.4L1762.8 1909.4L1767.4 1909.5L1772.0 1909.5L1776.6 1909.6L1781.1 1909.6L1785.7 1909.6L1790.3 1909.7L1794.9 1909.7L1799.5 1909.7L1804.1 1909.8L1808.7 1909.8L1813.3 1909.8L1817.9 1909.9L1822.5 1909.9L1827.0 1909.9" fill="none" stroke="#00ff00" stroke-width="9.7" stroke-dasharray="30.4 12.1" stroke-linejoin="round"/></g>
<line x1="1015.2" y1="151.5" x2="1223.2" y2="151.5" stroke="#0000ff" stroke-width="8.8"/>
<text class="lg" x="1255.2" y="172.8"><tspan class="gk">α</tspan><tspan dx="2.0">=</tspan>2.8,<tspan class="gk">λ</tspan><tspan dx="5.5">=</tspan>1.1,<tspan class="gk">β</tspan><tspan dx="2.5">=</tspan>0.5,p=0.1</text>
<line x1="1015.2" y1="249.7" x2="1215.2" y2="249.7" stroke="#800080" stroke-width="10.2" stroke-dasharray="30.3 11.8"/>
<text class="lg" x="1255.2" y="270.9"><tspan class="gk">α</tspan><tspan dx="2.0">=</tspan>0.9,<tspan class="gk">λ</tspan><tspan dx="5.5">=</tspan>0.7,<tspan class="gk">β</tspan><tspan dx="2.5">=</tspan>1.5,p=0.2</text>
<line x1="1015.2" y1="347.8" x2="1215.2" y2="347.8" stroke="#996633" stroke-width="10.2" stroke-dasharray="30.3 11.8"/>
<text class="lg" x="1255.2" y="369.1"><tspan class="gk">α</tspan><tspan dx="2.0">=</tspan>3.5,<tspan class="gk">λ</tspan><tspan dx="5.5">=</tspan>1.5,<tspan class="gk">β</tspan><tspan dx="2.5">=</tspan>0.4,p=0.1</text>
<line x1="1015.2" y1="446.0" x2="1215.2" y2="446.0" stroke="#ff8080" stroke-width="10.2" stroke-dasharray="30.3 11.8"/>
<text class="lg" x="1255.2" y="467.3"><tspan class="gk">α</tspan><tspan dx="2.0">=</tspan>2,<tspan class="gk">λ</tspan><tspan dx="5.5">=</tspan>3,<tspan class="gk">β</tspan><tspan dx="2.5">=</tspan>1.1,p=0.2</text>
<line x1="1015.2" y1="544.1" x2="1215.2" y2="544.1" stroke="#00ff00" stroke-width="10.2" stroke-dasharray="30.3 11.8"/>
<text class="lg" x="1255.2" y="565.4"><tspan class="gk">α</tspan><tspan dx="2.0">=</tspan>2,<tspan class="gk">λ</tspan><tspan dx="5.5">=</tspan>0.3,<tspan class="gk">β</tspan><tspan dx="2.5">=</tspan>0.4,p=0.5</text>
<g clip-path="url(#cl)">
<line x1="1089.1" y1="1421.4" x2="1288.0" y2="1421.4" stroke="#0000ff" stroke-width="10.2" stroke-dasharray="30.3 11.8"/>
<text class="lg" x="1328.4" y="1442.7"><tspan class="gk">α</tspan><tspan dx="2.0">=</tspan>5,<tspan class="gk">λ</tspan><tspan dx="5.5">=</tspan>0.7,<tspan class="gk">β</tspan><tspan dx="2.5">=</tspan>0.5,p=0.1</text>
<line x1="1089.1" y1="1519.6" x2="1288.0" y2="1519.6" stroke="#800080" stroke-width="10.2" stroke-dasharray="30.3 11.8"/>
<text class="lg" x="1328.4" y="1540.9"><tspan class="gk">α</tspan><tspan dx="2.0">=</tspan>0.9,<tspan class="gk">λ</tspan><tspan dx="5.5">=</tspan>0.7,<tspan class="gk">β</tspan><tspan dx="2.5">=</tspan>1.5,p=0.2</text>
<line x1="1089.1" y1="1617.8" x2="1288.0" y2="1617.8" stroke="#996633" stroke-width="10.2" stroke-dasharray="30.3 11.8"/>
<text class="lg" x="1328.4" y="1639.1"><tspan class="gk">α</tspan><tspan dx="2.0">=</tspan>3.5,<tspan class="gk">λ</tspan><tspan dx="5.5">=</tspan>1.5,<tspan class="gk">β</tspan><tspan dx="2.5">=</tspan>0.4,p=0.1</text>
<line x1="1089.1" y1="1716.0" x2="1288.0" y2="1716.0" stroke="#ff8080" stroke-width="10.2" stroke-dasharray="30.3 11.8"/>
<text class="lg" x="1328.4" y="1737.3"><tspan class="gk">α</tspan><tspan dx="2.0">=</tspan>2,<tspan class="gk">λ</tspan><tspan dx="5.5">=</tspan>3,<tspan class="gk">β</tspan><tspan dx="2.5">=</tspan>1.1,p=0.2</text>
<line x1="1089.1" y1="1814.2" x2="1288.0" y2="1814.2" stroke="#00ff00" stroke-width="10.2" stroke-dasharray="30.3 11.8"/>
<text class="lg" x="1328.4" y="1835.5"><tspan class="gk">α</tspan><tspan dx="2.0">=</tspan>2,<tspan class="gk">λ</tspan><tspan dx="5.5">=</tspan>0.3,<tspan class="gk">β</tspan><tspan dx="2.5">=</tspan>0.4,p=0.5</text>
</g>
<text class="ax" x="116.4" y="1280.5" text-anchor="middle">0</text>
<text class="ax" x="457.6" y="1280.5" text-anchor="middle">1</text>
<text class="ax" x="798.8" y="1280.5" text-anchor="middle">2</text>
<text class="ax" x="1140.0" y="1280.5" text-anchor="middle">3</text>
<text class="ax" x="1481.2" y="1280.5" text-anchor="middle">4</text>
<text class="ax" x="1822.4" y="1280.5" text-anchor="middle">5</text>
<text class="ax" x="100.4" y="1015.6" text-anchor="end">0.2</text>
<text class="ax" x="100.4" y="795.6" text-anchor="end">0.4</text>
<text class="ax" x="100.4" y="575.6" text-anchor="end">0.6</text>
<text class="ax" x="100.4" y="355.6" text-anchor="end">0.8</text>
<text class="ax" x="100.4" y="135.6" text-anchor="end">1.0</text>
<text class="ax" x="77.6" y="75.1" text-anchor="start">h(t)</text>
<text class="ax it" x="1909.6" y="1236.0" text-anchor="middle">t</text>
<text class="ax" x="116.6" y="2564.8" text-anchor="middle">0</text>
<text class="ax" x="543.0" y="2564.8" text-anchor="middle">2</text>
<text class="ax" x="969.4" y="2564.8" text-anchor="middle">4</text>
<text class="ax" x="1395.8" y="2564.8" text-anchor="middle">6</text>
<text class="ax" x="1822.2" y="2564.8" text-anchor="middle">8</text>
<text class="ax" x="100.4" y="2299.5" text-anchor="end">0.2</text>
<text class="ax" x="100.4" y="2079.6" text-anchor="end">0.4</text>
<text class="ax" x="100.4" y="1859.7" text-anchor="end">0.6</text>
<text class="ax" x="100.4" y="1639.8" text-anchor="end">0.8</text>
<text class="ax" x="100.4" y="1419.9" text-anchor="end">1.0</text>
<text class="ax" x="74.4" y="1359.3" text-anchor="start">S(t)</text>
<text class="ax it" x="1909.6" y="2519.0" text-anchor="middle">t</text>
</g>
<line x1="101.0" y1="1216.3" x2="2323.0" y2="1216.3" stroke="#666666" stroke-width="2.8"/>
<line x1="145.5" y1="115.6" x2="145.5" y2="1217.7" stroke="#666666" stroke-width="2.9"/>
<line x1="230.8" y1="1216.3" x2="230.8" y2="1207.3" stroke="#666666" stroke-width="2.0"/>
<line x1="316.1" y1="1216.3" x2="316.1" y2="1207.3" stroke="#666666" stroke-width="2.0"/>
<line x1="401.4" y1="1216.3" x2="401.4" y2="1207.3" stroke="#666666" stroke-width="2.0"/>
<line x1="486.7" y1="1216.3" x2="486.7" y2="1207.3" stroke="#666666" stroke-width="2.0"/>
<line x1="572.0" y1="1216.3" x2="572.0" y2="1200.3" stroke="#666666" stroke-width="2.0"/>
<line x1="657.3" y1="1216.3" x2="657.3" y2="1207.3" stroke="#666666" stroke-width="2.0"/>
<line x1="742.6" y1="1216.3" x2="742.6" y2="1207.3" stroke="#666666" stroke-width="2.0"/>
<line x1="827.9" y1="1216.3" x2="827.9" y2="1207.3" stroke="#666666" stroke-width="2.0"/>
<line x1="913.2" y1="1216.3" x2="913.2" y2="1207.3" stroke="#666666" stroke-width="2.0"/>
<line x1="998.5" y1="1216.3" x2="998.5" y2="1200.3" stroke="#666666" stroke-width="2.0"/>
<line x1="1083.8" y1="1216.3" x2="1083.8" y2="1207.3" stroke="#666666" stroke-width="2.0"/>
<line x1="1169.1" y1="1216.3" x2="1169.1" y2="1207.3" stroke="#666666" stroke-width="2.0"/>
<line x1="1254.4" y1="1216.3" x2="1254.4" y2="1207.3" stroke="#666666" stroke-width="2.0"/>
<line x1="1339.7" y1="1216.3" x2="1339.7" y2="1207.3" stroke="#666666" stroke-width="2.0"/>
<line x1="1425.0" y1="1216.3" x2="1425.0" y2="1200.3" stroke="#666666" stroke-width="2.0"/>
<line x1="1510.3" y1="1216.3" x2="1510.3" y2="1207.3" stroke="#666666" stroke-width="2.0"/>
<line x1="1595.6" y1="1216.3" x2="1595.6" y2="1207.3" stroke="#666666" stroke-width="2.0"/>
<line x1="1680.9" y1="1216.3" x2="1680.9" y2="1207.3" stroke="#666666" stroke-width="2.0"/>
<line x1="1766.2" y1="1216.3" x2="1766.2" y2="1207.3" stroke="#666666" stroke-width="2.0"/>
<line x1="1851.5" y1="1216.3" x2="1851.5" y2="1200.3" stroke="#666666" stroke-width="2.0"/>
<line x1="1936.8" y1="1216.3" x2="1936.8" y2="1207.3" stroke="#666666" stroke-width="2.0"/>
<line x1="2022.1" y1="1216.3" x2="2022.1" y2="1207.3" stroke="#666666" stroke-width="2.0"/>
<line x1="2107.4" y1="1216.3" x2="2107.4" y2="1207.3" stroke="#666666" stroke-width="2.0"/>
<line x1="2192.7" y1="1216.3" x2="2192.7" y2="1207.3" stroke="#666666" stroke-width="2.0"/>
<line x1="2278.0" y1="1216.3" x2="2278.0" y2="1200.3" stroke="#666666" stroke-width="2.0"/>
<line x1="145.5" y1="1161.3" x2="155.5" y2="1161.3" stroke="#666666" stroke-width="2.2"/>
<line x1="145.5" y1="1106.3" x2="155.5" y2="1106.3" stroke="#666666" stroke-width="2.2"/>
<line x1="145.5" y1="1051.3" x2="155.5" y2="1051.3" stroke="#666666" stroke-width="2.2"/>
<line x1="145.5" y1="996.3" x2="162.5" y2="996.3" stroke="#666666" stroke-width="2.2"/>
<line x1="145.5" y1="941.3" x2="155.5" y2="941.3" stroke="#666666" stroke-width="2.2"/>
<line x1="145.5" y1="886.3" x2="155.5" y2="886.3" stroke="#666666" stroke-width="2.2"/>
<line x1="145.5" y1="831.3" x2="155.5" y2="831.3" stroke="#666666" stroke-width="2.2"/>
<line x1="145.5" y1="776.3" x2="162.5" y2="776.3" stroke="#666666" stroke-width="2.2"/>
<line x1="145.5" y1="721.3" x2="155.5" y2="721.3" stroke="#666666" stroke-width="2.2"/>
<line x1="145.5" y1="666.3" x2="155.5" y2="666.3" stroke="#666666" stroke-width="2.2"/>
<line x1="145.5" y1="611.3" x2="155.5" y2="611.3" stroke="#666666" stroke-width="2.2"/>
<line x1="145.5" y1="556.3" x2="162.5" y2="556.3" stroke="#666666" stroke-width="2.2"/>
<line x1="145.5" y1="501.3" x2="155.5" y2="501.3" stroke="#666666" stroke-width="2.2"/>
<line x1="145.5" y1="446.3" x2="155.5" y2="446.3" stroke="#666666" stroke-width="2.2"/>
<line x1="145.5" y1="391.3" x2="155.5" y2="391.3" stroke="#666666" stroke-width="2.2"/>
<line x1="145.5" y1="336.3" x2="162.5" y2="336.3" stroke="#666666" stroke-width="2.2"/>
<line x1="145.5" y1="281.3" x2="155.5" y2="281.3" stroke="#666666" stroke-width="2.2"/>
<line x1="145.5" y1="226.3" x2="155.5" y2="226.3" stroke="#666666" stroke-width="2.2"/>
<line x1="145.5" y1="171.3" x2="155.5" y2="171.3" stroke="#666666" stroke-width="2.2"/>
<line x1="145.5" y1="116.3" x2="162.5" y2="116.3" stroke="#666666" stroke-width="2.2"/>
<line x1="101.0" y1="2500.4" x2="2323.0" y2="2500.4" stroke="#666666" stroke-width="2.8"/>
<line x1="145.7" y1="1401.0" x2="145.7" y2="2501.8" stroke="#666666" stroke-width="2.9"/>
<line x1="278.9" y1="2500.4" x2="278.9" y2="2491.4" stroke="#666666" stroke-width="2.0"/>
<line x1="412.2" y1="2500.4" x2="412.2" y2="2491.4" stroke="#666666" stroke-width="2.0"/>
<line x1="545.5" y1="2500.4" x2="545.5" y2="2491.4" stroke="#666666" stroke-width="2.0"/>
<line x1="678.7" y1="2500.4" x2="678.7" y2="2484.4" stroke="#666666" stroke-width="2.0"/>
<line x1="812.0" y1="2500.4" x2="812.0" y2="2491.4" stroke="#666666" stroke-width="2.0"/>
<line x1="945.2" y1="2500.4" x2="945.2" y2="2491.4" stroke="#666666" stroke-width="2.0"/>
<line x1="1078.5" y1="2500.4" x2="1078.5" y2="2491.4" stroke="#666666" stroke-width="2.0"/>
<line x1="1211.7" y1="2500.4" x2="1211.7" y2="2484.4" stroke="#666666" stroke-width="2.0"/>
<line x1="1345.0" y1="2500.4" x2="1345.0" y2="2491.4" stroke="#666666" stroke-width="2.0"/>
<line x1="1478.2" y1="2500.4" x2="1478.2" y2="2491.4" stroke="#666666" stroke-width="2.0"/>
<line x1="1611.5" y1="2500.4" x2="1611.5" y2="2491.4" stroke="#666666" stroke-width="2.0"/>
<line x1="1744.7" y1="2500.4" x2="1744.7" y2="2484.4" stroke="#666666" stroke-width="2.0"/>
<line x1="1878.0" y1="2500.4" x2="1878.0" y2="2491.4" stroke="#666666" stroke-width="2.0"/>
<line x1="2011.2" y1="2500.4" x2="2011.2" y2="2491.4" stroke="#666666" stroke-width="2.0"/>
<line x1="2144.4" y1="2500.4" x2="2144.4" y2="2491.4" stroke="#666666" stroke-width="2.0"/>
<line x1="2277.7" y1="2500.4" x2="2277.7" y2="2484.4" stroke="#666666" stroke-width="2.0"/>
<line x1="145.7" y1="2445.4" x2="155.7" y2="2445.4" stroke="#666666" stroke-width="2.2"/>
<line x1="145.7" y1="2390.5" x2="155.7" y2="2390.5" stroke="#666666" stroke-width="2.2"/>
<line x1="145.7" y1="2335.5" x2="155.7" y2="2335.5" stroke="#666666" stroke-width="2.2"/>
<line x1="145.7" y1="2280.5" x2="162.7" y2="2280.5" stroke="#666666" stroke-width="2.2"/>
<line x1="145.7" y1="2225.5" x2="155.7" y2="2225.5" stroke="#666666" stroke-width="2.2"/>
<line x1="145.7" y1="2170.6" x2="155.7" y2="2170.6" stroke="#666666" stroke-width="2.2"/>
<line x1="145.7" y1="2115.6" x2="155.7" y2="2115.6" stroke="#666666" stroke-width="2.2"/>
<line x1="145.7" y1="2060.6" x2="162.7" y2="2060.6" stroke="#666666" stroke-width="2.2"/>
<line x1="145.7" y1="2005.6" x2="155.7" y2="2005.6" stroke="#666666" stroke-width="2.2"/>
<line x1="145.7" y1="1950.7" x2="155.7" y2="1950.7" stroke="#666666" stroke-width="2.2"/>
<line x1="145.7" y1="1895.7" x2="155.7" y2="1895.7" stroke="#666666" stroke-width="2.2"/>
<line x1="145.7" y1="1840.7" x2="162.7" y2="1840.7" stroke="#666666" stroke-width="2.2"/>
<line x1="145.7" y1="1785.7" x2="155.7" y2="1785.7" stroke="#666666" stroke-width="2.2"/>
<line x1="145.7" y1="1730.8" x2="155.7" y2="1730.8" stroke="#666666" stroke-width="2.2"/>
<line x1="145.7" y1="1675.8" x2="155.7" y2="1675.8" stroke="#666666" stroke-width="2.2"/>
<line x1="145.7" y1="1620.8" x2="162.7" y2="1620.8" stroke="#666666" stroke-width="2.2"/>
<line x1="145.7" y1="1565.8" x2="155.7" y2="1565.8" stroke="#666666" stroke-width="2.2"/>
<line x1="145.7" y1="1510.8" x2="155.7" y2="1510.8" stroke="#666666" stroke-width="2.2"/>
<line x1="145.7" y1="1455.9" x2="155.7" y2="1455.9" stroke="#666666" stroke-width="2.2"/>
<line x1="145.7" y1="1400.9" x2="162.7" y2="1400.9" stroke="#666666" stroke-width="2.2"/>
</svg></body></html>
